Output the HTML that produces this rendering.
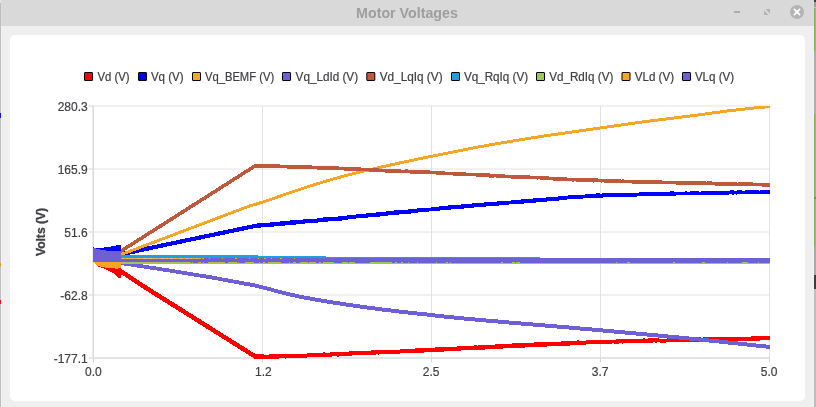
<!DOCTYPE html>
<html lang="en">
<head>
<meta charset="utf-8">
<title>Motor Voltages</title>
<style>
html,body{margin:0;padding:0;background:#efefef;overflow:hidden}
body{width:816px;height:407px;position:relative;font-family:"Liberation Sans",sans-serif}
svg{position:absolute;left:0;top:0;display:block}
text{font-family:"Liberation Sans",sans-serif}
.lb{font-size:12px;fill:#404044;stroke:#404044;stroke-width:0.2px}
.crisp{shape-rendering:crispEdges}
</style>
</head>
<body>
<svg width="816" height="407" viewBox="0 0 816 407">
<defs><clipPath id="plot"><rect x="93" y="106" width="677" height="253"/></clipPath></defs>

<g class="crisp">
<rect x="0" y="0" width="816" height="407" fill="#efefef"/>
<rect x="0" y="0" width="816" height="26" fill="#d9d9d9"/>
<rect x="1" y="0" width="1" height="26" fill="#dcdcdc"/>
<rect x="1" y="26" width="1" height="381" fill="#f3f3f3"/>
<rect x="813" y="0" width="1" height="26" fill="#dcdcdc"/>
<rect x="813" y="26" width="1" height="381" fill="#f3f3f3"/>
<rect x="0" y="0" width="1" height="407" fill="#bebebe"/>
<rect x="0" y="0" width="1" height="3" fill="#e6e6e6"/>
<rect x="0" y="113" width="1" height="5" fill="#1010e0"/>
<rect x="0" y="263" width="1" height="3" fill="#e09a14"/>
<rect x="0" y="300" width="1" height="4" fill="#e01414"/>
<rect x="814" y="0" width="2" height="2" fill="#3e3e3e"/>
<rect x="814" y="2" width="2" height="5" fill="#9e9e9e"/>
<rect x="814" y="7" width="2" height="1" fill="#c2cab4"/>
<rect x="814" y="8" width="2" height="43" fill="#8db261"/>
<rect x="814" y="8" width="1" height="43" fill="#86ab59"/>
<rect x="815" y="8" width="1" height="43" fill="#99be6b"/>
<rect x="814" y="51" width="2" height="63" fill="#adadad"/>
<rect x="814" y="114" width="2" height="58" fill="#8db261"/>
<rect x="814" y="114" width="1" height="58" fill="#86ab59"/>
<rect x="815" y="114" width="1" height="58" fill="#99be6b"/>
<rect x="814" y="172" width="2" height="25" fill="#93b774"/>
<rect x="814" y="172" width="1" height="25" fill="#86ab59"/>
<rect x="815" y="172" width="1" height="25" fill="#99be6b"/>
<rect x="814" y="197" width="2" height="2" fill="#6f9443"/>
<rect x="814" y="199" width="2" height="48" fill="#8db261"/>
<rect x="814" y="199" width="1" height="48" fill="#86ab59"/>
<rect x="815" y="199" width="1" height="48" fill="#99be6b"/>
<rect x="814" y="247" width="2" height="28" fill="#a9a9a9"/>
<rect x="814" y="275" width="2" height="14" fill="#3c3c3c"/>
<rect x="814" y="289" width="2" height="118" fill="#bdbdbd"/>
</g>
<text x="407" y="18" text-anchor="middle" font-size="14.4" font-weight="bold" fill="#9e9e9e" textLength="101.8" lengthAdjust="spacingAndGlyphs">Motor Voltages</text>
<rect class="crisp" x="734" y="11" width="6" height="2" fill="#adadad"/>
<path d="M765.5 9 H770 V13.5 Z M764 10.5 V15 H768.5 Z" fill="#b2b2b2"/>
<circle cx="797" cy="12" r="7" fill="#b4b4b4"/>
<path d="M794.4 9.4 L799.6 14.6" fill="none" stroke="#ffffff" stroke-width="1.7" stroke-linecap="round"/>
<path d="M799.6 9.4 L794.4 14.6" fill="none" stroke="#ffffff" stroke-width="1.7" stroke-linecap="round"/>
<rect x="10" y="35" width="795" height="366" rx="5" ry="5" fill="#ffffff"/>
<rect x="84.5" y="72.5" width="8" height="8" rx="0.4" fill="#ff0000" stroke="#000" stroke-width="1"/>
<text class="lb" x="97.5" y="80.6" textLength="32.1" lengthAdjust="spacingAndGlyphs">Vd (V)</text>
<rect x="138.5" y="72.5" width="8" height="8" rx="0.4" fill="#0000ff" stroke="#000" stroke-width="1"/>
<text class="lb" x="150.9" y="80.6" textLength="32.7" lengthAdjust="spacingAndGlyphs">Vq (V)</text>
<rect x="192.5" y="72.5" width="8" height="8" rx="0.4" fill="#f6a625" stroke="#000" stroke-width="1"/>
<text class="lb" x="204.9" y="80.6" textLength="69.3" lengthAdjust="spacingAndGlyphs">Vq_BEMF (V)</text>
<rect x="282.5" y="72.5" width="8" height="8" rx="0.4" fill="#6d5fd5" stroke="#000" stroke-width="1"/>
<text class="lb" x="295.6" y="80.6" textLength="62.5" lengthAdjust="spacingAndGlyphs">Vq_LdId (V)</text>
<rect x="366.8" y="72.5" width="8" height="8" rx="0.4" fill="#bf593e" stroke="#000" stroke-width="1"/>
<text class="lb" x="379.7" y="80.6" textLength="62.9" lengthAdjust="spacingAndGlyphs">Vd_LqIq (V)</text>
<rect x="451.5" y="72.5" width="8" height="8" rx="0.4" fill="#209fdf" stroke="#000" stroke-width="1"/>
<text class="lb" x="463.9" y="80.6" textLength="64.2" lengthAdjust="spacingAndGlyphs">Vq_RqIq (V)</text>
<rect x="536.5" y="72.5" width="8" height="8" rx="0.4" fill="#99ca53" stroke="#000" stroke-width="1"/>
<text class="lb" x="549.2" y="80.6" textLength="64.2" lengthAdjust="spacingAndGlyphs">Vd_RdIq (V)</text>
<rect x="622.0" y="72.5" width="8" height="8" rx="0.4" fill="#f6a625" stroke="#000" stroke-width="1"/>
<text class="lb" x="634.7" y="80.6" textLength="39.4" lengthAdjust="spacingAndGlyphs">VLd (V)</text>
<rect x="682.5" y="72.5" width="8" height="8" rx="0.4" fill="#6d5fd5" stroke="#000" stroke-width="1"/>
<text class="lb" x="694.9" y="80.6" textLength="39.3" lengthAdjust="spacingAndGlyphs">VLq (V)</text>
<line x1="93.5" y1="106" x2="93.5" y2="358" stroke="#e2e2e2" stroke-width="1"/>
<line x1="262.5" y1="106" x2="262.5" y2="358" stroke="#e2e2e2" stroke-width="1"/>
<line x1="431.5" y1="106" x2="431.5" y2="358" stroke="#e2e2e2" stroke-width="1"/>
<line x1="600.5" y1="106" x2="600.5" y2="358" stroke="#e2e2e2" stroke-width="1"/>
<line x1="769.5" y1="106" x2="769.5" y2="358" stroke="#e2e2e2" stroke-width="1"/>
<line x1="93" y1="106" x2="770" y2="106" stroke="#e2e2e2" stroke-width="1"/>
<line x1="93" y1="169" x2="770" y2="169" stroke="#e2e2e2" stroke-width="1"/>
<line x1="93" y1="232" x2="770" y2="232" stroke="#e2e2e2" stroke-width="1"/>
<line x1="93" y1="295" x2="770" y2="295" stroke="#e2e2e2" stroke-width="1"/>
<line x1="93" y1="358" x2="770" y2="358" stroke="#e2e2e2" stroke-width="1"/>
<line x1="93" y1="106" x2="93" y2="358" stroke="#d6d6d6" stroke-width="1"/>
<line x1="93" y1="358" x2="770" y2="358" stroke="#d6d6d6" stroke-width="1"/>
<line x1="93.5" y1="358" x2="93.5" y2="362.5" stroke="#d6d6d6" stroke-width="1"/>
<line x1="262.5" y1="358" x2="262.5" y2="362.5" stroke="#d6d6d6" stroke-width="1"/>
<line x1="431.5" y1="358" x2="431.5" y2="362.5" stroke="#d6d6d6" stroke-width="1"/>
<line x1="600.5" y1="358" x2="600.5" y2="362.5" stroke="#d6d6d6" stroke-width="1"/>
<line x1="769.5" y1="358" x2="769.5" y2="362.5" stroke="#d6d6d6" stroke-width="1"/>
<line x1="88.5" y1="106" x2="93" y2="106" stroke="#d6d6d6" stroke-width="1"/>
<line x1="88.5" y1="169" x2="93" y2="169" stroke="#d6d6d6" stroke-width="1"/>
<line x1="88.5" y1="232" x2="93" y2="232" stroke="#d6d6d6" stroke-width="1"/>
<line x1="88.5" y1="295" x2="93" y2="295" stroke="#d6d6d6" stroke-width="1"/>
<line x1="88.5" y1="358" x2="93" y2="358" stroke="#d6d6d6" stroke-width="1"/>
<text class="lb" x="87.7" y="110.6" text-anchor="end">280.3</text>
<text class="lb" x="87.7" y="173.6" text-anchor="end">165.9</text>
<text class="lb" x="87.7" y="236.6" text-anchor="end">51.6</text>
<text class="lb" x="87.7" y="299.6" text-anchor="end">-62.8</text>
<text class="lb" x="87.7" y="362.6" text-anchor="end">-177.1</text>
<text class="lb" x="93.4" y="376" text-anchor="middle">0.0</text>
<text class="lb" x="263.3" y="376" text-anchor="middle">1.2</text>
<text class="lb" x="431.1" y="376" text-anchor="middle">2.5</text>
<text class="lb" x="600.1" y="376" text-anchor="middle">3.7</text>
<text class="lb" x="769.1" y="376" text-anchor="middle">5.0</text>
<text class="lb" font-weight="bold" transform="translate(44.9 232) rotate(-90)" style="stroke-width:0.3px" text-anchor="middle" textLength="48" lengthAdjust="spacingAndGlyphs">Volts (V)</text>
<g class="crisp" clip-path="url(#plot)">
<polygon points="93,262 98,266.4 103,268 108,270.5 112.6,272.7 115,274.7 117.5,277 119,278.5 120.5,278 120.5,262" fill="#ff0000"/>
<polygon points="93,247 96,248.1 100,247.9 105,247.4 110,246.6 115,245.9 118.5,244.9 120.5,245.4 120.5,255 93,255" fill="#0000ff"/>
<polygon points="120.5,268.5 121.0,268.8 122.0,269.5 123.0,270.1 124.0,270.8 125.0,271.5 126.0,272.1 127.0,272.8 128.0,273.4 129.0,274.1 130.0,274.7 131.0,275.4 132.0,276.0 133.0,276.7 134.0,277.4 135.0,278.0 136.0,278.7 137.0,279.3 138.0,280.0 139.0,280.6 140.0,281.3 141.0,281.9 142.0,282.6 143.0,283.3 144.0,283.9 145.0,284.6 146.0,285.2 147.0,285.8 148.0,286.4 149.0,287.1 150.0,287.7 151.0,288.3 152.0,289.0 153.0,289.6 154.0,290.2 155.0,290.9 156.0,291.5 157.0,292.1 158.0,292.7 159.0,293.4 160.0,294.0 161.0,294.6 162.0,295.3 163.0,295.9 164.0,296.5 165.0,297.1 166.0,297.8 167.0,298.4 168.0,299.0 169.0,299.7 170.0,300.3 171.0,300.9 172.0,301.5 173.0,302.2 174.0,302.8 175.0,303.4 176.0,304.1 177.0,304.7 178.0,305.3 179.0,305.9 180.0,306.6 181.0,307.2 182.0,307.8 183.0,308.5 184.0,309.1 185.0,309.7 186.0,310.4 187.0,311.0 188.0,311.6 189.0,312.2 190.0,312.9 191.0,313.5 192.0,314.1 193.0,314.8 194.0,315.4 195.0,316.0 196.0,316.6 197.0,317.3 198.0,317.9 199.0,318.5 200.0,319.2 201.0,319.8 202.0,320.4 203.0,321.0 204.0,321.7 205.0,322.3 206.0,322.9 207.0,323.6 208.0,324.2 209.0,324.8 210.0,325.5 211.0,326.1 212.0,326.7 213.0,327.3 214.0,328.0 215.0,328.6 216.0,329.2 217.0,329.9 218.0,330.5 219.0,331.1 220.0,331.7 221.0,332.4 222.0,333.0 223.0,333.6 224.0,334.3 225.0,334.9 226.0,335.5 227.0,336.1 228.0,336.8 229.0,337.4 230.0,338.0 231.0,338.7 232.0,339.3 233.0,339.9 234.0,340.6 235.0,341.2 236.0,341.8 237.0,342.4 238.0,343.1 239.0,343.7 240.0,344.3 241.0,345.0 242.0,345.6 243.0,346.2 244.0,346.8 245.0,347.5 246.0,348.1 247.0,348.7 248.0,349.4 249.0,350.0 250.0,350.6 251.0,351.2 252.0,351.9 253.0,352.5 254.0,353.1 255.0,353.8 256.0,354.2 257.0,354.5 258.0,354.3 259.0,354.2 260.0,354.1 261.0,354.4 262.0,354.4 263.0,354.3 264.0,354.5 265.0,354.6 266.0,354.5 267.0,354.6 268.0,354.6 269.0,354.5 270.0,354.4 271.0,354.2 272.0,354.4 273.0,354.4 274.0,354.6 275.0,354.4 276.0,354.3 277.0,354.4 278.0,354.3 279.0,354.3 280.0,354.2 281.0,354.1 282.0,354.1 283.0,354.0 284.0,354.0 285.0,354.0 286.0,353.9 287.0,354.0 288.0,354.2 289.0,354.2 290.0,354.2 291.0,354.0 292.0,354.1 293.0,354.2 294.0,354.2 295.0,354.0 296.0,354.0 297.0,354.1 298.0,354.0 299.0,353.9 300.0,353.9 301.0,353.7 302.0,353.8 303.0,353.7 304.0,353.8 305.0,353.6 306.0,353.5 307.0,353.5 308.0,353.4 309.0,353.3 310.0,353.1 311.0,353.2 312.0,353.1 313.0,353.0 314.0,353.0 315.0,353.0 316.0,353.0 317.0,352.9 318.0,352.9 319.0,352.8 320.0,352.9 321.0,352.7 322.0,352.5 323.0,352.5 324.0,352.4 325.0,352.5 326.0,352.6 327.0,352.5 328.0,352.5 329.0,352.5 330.0,352.6 331.0,352.4 332.0,352.2 333.0,352.3 334.0,352.2 335.0,352.1 336.0,351.9 337.0,351.8 338.0,351.9 339.0,351.8 340.0,351.9 341.0,352.0 342.0,351.9 343.0,351.8 344.0,351.9 345.0,351.9 346.0,351.7 347.0,351.5 348.0,351.6 349.0,351.6 350.0,351.4 351.0,351.2 352.0,351.1 353.0,351.1 354.0,351.1 355.0,351.2 356.0,351.1 357.0,351.0 358.0,350.9 359.0,351.0 360.0,351.1 361.0,351.0 362.0,351.1 363.0,350.9 364.0,350.7 365.0,350.6 366.0,350.6 367.0,350.7 368.0,350.5 369.0,350.5 370.0,350.5 371.0,350.5 372.0,350.4 373.0,350.3 374.0,350.4 375.0,350.3 376.0,350.3 377.0,350.1 378.0,350.1 379.0,350.2 380.0,350.3 381.0,350.3 382.0,350.3 383.0,350.1 384.0,350.1 385.0,350.0 386.0,349.9 387.0,349.8 388.0,349.8 389.0,349.9 390.0,349.8 391.0,349.8 392.0,349.7 393.0,349.7 394.0,349.8 395.0,349.8 396.0,349.8 397.0,349.6 398.0,349.6 399.0,349.5 400.0,349.5 401.0,349.4 402.0,349.3 403.0,349.2 404.0,349.2 405.0,349.1 406.0,349.1 407.0,349.1 408.0,348.9 409.0,349.0 410.0,348.8 411.0,348.8 412.0,348.7 413.0,348.6 414.0,348.6 415.0,348.5 416.0,348.4 417.0,348.3 418.0,348.4 419.0,348.3 420.0,348.3 421.0,348.1 422.0,348.2 423.0,348.1 424.0,348.2 425.0,348.2 426.0,348.3 427.0,348.3 428.0,348.3 429.0,348.2 430.0,347.9 431.0,347.8 432.0,347.7 433.0,347.7 434.0,347.6 435.0,347.5 436.0,347.4 437.0,347.5 438.0,347.3 439.0,347.4 440.0,347.5 441.0,347.4 442.0,347.2 443.0,347.0 444.0,347.0 445.0,346.9 446.0,347.0 447.0,347.0 448.0,347.1 449.0,347.0 450.0,347.1 451.0,347.1 452.0,346.9 453.0,346.9 454.0,346.8 455.0,346.8 456.0,346.8 457.0,346.6 458.0,346.4 459.0,346.2 460.0,346.3 461.0,346.1 462.0,346.3 463.0,346.1 464.0,346.0 465.0,346.0 466.0,346.0 467.0,346.0 468.0,346.0 469.0,346.0 470.0,345.8 471.0,345.8 472.0,345.8 473.0,345.7 474.0,345.6 475.0,345.4 476.0,345.4 477.0,345.5 478.0,345.5 479.0,345.3 480.0,345.2 481.0,345.3 482.0,345.1 483.0,345.1 484.0,345.0 485.0,344.8 486.0,344.8 487.0,344.8 488.0,344.9 489.0,344.8 490.0,344.9 491.0,344.6 492.0,344.7 493.0,344.5 494.0,344.6 495.0,344.5 496.0,344.3 497.0,344.3 498.0,344.3 499.0,344.3 500.0,344.3 501.0,344.4 502.0,344.4 503.0,344.3 504.0,344.3 505.0,344.1 506.0,344.0 507.0,343.9 508.0,343.7 509.0,343.7 510.0,343.6 511.0,343.5 512.0,343.5 513.0,343.4 514.0,343.3 515.0,343.2 516.0,343.2 517.0,343.4 518.0,343.4 519.0,343.5 520.0,343.3 521.0,343.3 522.0,343.3 523.0,343.3 524.0,343.4 525.0,343.2 526.0,343.3 527.0,343.0 528.0,343.0 529.0,343.1 530.0,342.9 531.0,342.7 532.0,342.7 533.0,342.5 534.0,342.5 535.0,342.4 536.0,342.5 537.0,342.3 538.0,342.2 539.0,342.3 540.0,342.2 541.0,342.2 542.0,342.3 543.0,342.3 544.0,342.4 545.0,342.4 546.0,342.4 547.0,342.2 548.0,342.2 549.0,342.1 550.0,342.2 551.0,342.1 552.0,342.1 553.0,341.9 554.0,341.9 555.0,341.7 556.0,341.8 557.0,341.9 558.0,341.8 559.0,341.7 560.0,341.7 561.0,341.6 562.0,341.4 563.0,341.4 564.0,341.3 565.0,341.2 566.0,341.3 567.0,341.3 568.0,341.2 569.0,341.2 570.0,341.3 571.0,341.3 572.0,341.2 573.0,341.0 574.0,340.9 575.0,340.8 576.0,340.7 577.0,340.5 578.0,340.4 579.0,340.5 580.0,340.6 581.0,340.6 582.0,340.6 583.0,340.6 584.0,340.6 585.0,340.7 586.0,340.4 587.0,340.5 588.0,340.2 589.0,340.2 590.0,340.1 591.0,340.2 592.0,340.2 593.0,340.1 594.0,340.0 595.0,340.1 596.0,340.1 597.0,340.1 598.0,339.9 599.0,339.8 600.0,339.9 601.0,339.9 602.0,339.8 603.0,339.7 604.0,339.8 605.0,339.9 606.0,339.7 607.0,339.6 608.0,339.5 609.0,339.7 610.0,339.6 611.0,339.6 612.0,339.6 613.0,339.5 614.0,339.7 615.0,339.7 616.0,339.5 617.0,339.4 618.0,339.5 619.0,339.3 620.0,339.3 621.0,339.1 622.0,339.2 623.0,339.2 624.0,339.0 625.0,339.0 626.0,338.9 627.0,338.9 628.0,338.9 629.0,338.8 630.0,338.9 631.0,338.7 632.0,338.9 633.0,339.0 634.0,338.9 635.0,338.8 636.0,338.7 637.0,338.6 638.0,338.7 639.0,338.8 640.0,338.7 641.0,338.8 642.0,338.6 643.0,338.6 644.0,338.4 645.0,338.6 646.0,338.5 647.0,338.6 648.0,338.5 649.0,338.4 650.0,338.5 651.0,338.4 652.0,338.3 653.0,338.2 654.0,338.1 655.0,338.2 656.0,338.3 657.0,338.4 658.0,338.4 659.0,338.6 660.0,338.6 661.0,338.7 662.0,338.7 663.0,338.7 664.0,338.6 665.0,338.5 666.0,338.6 667.0,338.5 668.0,338.4 669.0,338.3 670.0,338.3 671.0,338.2 672.0,338.1 673.0,338.0 674.0,338.1 675.0,338.1 676.0,338.2 677.0,338.0 678.0,338.0 679.0,338.2 680.0,338.3 681.0,338.3 682.0,338.1 683.0,338.0 684.0,337.9 685.0,337.8 686.0,337.7 687.0,337.8 688.0,337.7 689.0,337.8 690.0,337.8 691.0,337.9 692.0,337.9 693.0,337.9 694.0,337.8 695.0,337.6 696.0,337.4 697.0,337.3 698.0,337.2 699.0,337.3 700.0,337.3 701.0,337.5 702.0,337.6 703.0,337.5 704.0,337.4 705.0,337.3 706.0,337.4 707.0,337.4 708.0,337.3 709.0,337.5 710.0,337.3 711.0,337.2 712.0,337.4 713.0,337.4 714.0,337.4 715.0,337.4 716.0,337.2 717.0,337.2 718.0,337.3 719.0,337.1 720.0,337.0 721.0,336.9 722.0,336.8 723.0,337.0 724.0,337.1 725.0,337.1 726.0,337.1 727.0,337.0 728.0,337.0 729.0,337.1 730.0,336.9 731.0,336.8 732.0,336.6 733.0,336.8 734.0,336.9 735.0,336.7 736.0,336.8 737.0,336.6 738.0,336.7 739.0,336.8 740.0,336.8 741.0,336.8 742.0,336.9 743.0,336.8 744.0,336.8 745.0,336.9 746.0,336.8 747.0,336.7 748.0,336.8 749.0,336.8 750.0,336.8 751.0,336.6 752.0,336.4 753.0,336.3 754.0,336.4 755.0,336.5 756.0,336.3 757.0,336.2 758.0,336.2 759.0,336.4 760.0,336.3 761.0,336.2 762.0,336.2 763.0,336.1 764.0,336.0 765.0,336.0 766.0,336.0 767.0,336.1 768.0,336.2 769.0,336.0 770.0,336.0 770.0,340.0 769.0,340.1 768.0,340.2 767.0,340.3 766.0,340.3 765.0,340.2 764.0,340.3 763.0,340.2 762.0,340.3 761.0,340.4 760.0,340.5 759.0,340.5 758.0,340.5 757.0,340.5 756.0,340.6 755.0,340.5 754.0,340.6 753.0,340.7 752.0,340.8 751.0,340.8 750.0,340.8 749.0,340.8 748.0,340.8 747.0,340.8 746.0,340.7 745.0,340.7 744.0,340.9 743.0,340.8 742.0,340.9 741.0,340.9 740.0,340.8 739.0,341.0 738.0,341.1 737.0,341.0 736.0,341.1 735.0,341.0 734.0,340.8 733.0,340.9 732.0,340.8 731.0,341.0 730.0,341.2 729.0,341.3 728.0,341.2 727.0,341.2 726.0,341.3 725.0,341.3 724.0,341.3 723.0,341.4 722.0,341.4 721.0,341.6 720.0,341.6 719.0,341.6 718.0,341.5 717.0,341.4 716.0,341.5 715.0,341.5 714.0,341.3 713.0,341.5 712.0,341.5 711.0,341.6 710.0,341.7 709.0,341.8 708.0,341.8 707.0,341.9 706.0,341.8 705.0,341.7 704.0,341.9 703.0,341.9 702.0,341.9 701.0,341.8 700.0,341.8 699.0,341.6 698.0,341.7 697.0,341.8 696.0,342.0 695.0,342.0 694.0,342.1 693.0,342.2 692.0,342.1 691.0,342.1 690.0,342.2 689.0,342.3 688.0,342.3 687.0,342.2 686.0,342.2 685.0,342.2 684.0,342.2 683.0,342.3 682.0,342.2 681.0,342.1 680.0,341.9 679.0,342.0 678.0,342.1 677.0,342.3 676.0,342.4 675.0,342.3 674.0,342.2 673.0,342.2 672.0,342.2 671.0,342.2 670.0,342.2 669.0,342.2 668.0,342.2 667.0,342.3 666.0,342.5 665.0,342.5 664.0,342.5 663.0,342.5 662.0,342.5 661.0,342.5 660.0,342.5 659.0,342.4 658.0,342.4 657.0,342.5 656.0,342.5 655.0,342.6 654.0,342.4 653.0,342.5 652.0,342.6 651.0,342.7 650.0,342.6 649.0,342.8 648.0,342.6 647.0,342.7 646.0,342.9 645.0,342.9 644.0,342.7 643.0,342.8 642.0,342.7 641.0,342.9 640.0,343.0 639.0,342.9 638.0,343.0 637.0,343.0 636.0,343.0 635.0,343.1 634.0,343.3 633.0,343.4 632.0,343.3 631.0,343.2 630.0,343.4 629.0,343.4 628.0,343.3 627.0,343.3 626.0,343.3 625.0,343.5 624.0,343.4 623.0,343.5 622.0,343.6 621.0,343.4 620.0,343.4 619.0,343.6 618.0,343.5 617.0,343.7 616.0,343.6 615.0,343.7 614.0,343.5 613.0,343.4 612.0,343.6 611.0,343.7 610.0,343.9 609.0,343.8 608.0,343.9 607.0,343.8 606.0,343.8 605.0,343.6 604.0,343.8 603.0,343.9 602.0,344.0 601.0,343.9 600.0,344.1 599.0,344.0 598.0,343.9 597.0,344.0 596.0,344.1 595.0,344.2 594.0,344.4 593.0,344.4 592.0,344.4 591.0,344.3 590.0,344.5 589.0,344.4 588.0,344.3 587.0,344.3 586.0,344.5 585.0,344.6 584.0,344.6 583.0,344.6 582.0,344.7 581.0,344.7 580.0,344.7 579.0,344.8 578.0,344.9 577.0,344.8 576.0,345.0 575.0,345.0 574.0,345.2 573.0,345.4 572.0,345.4 571.0,345.4 570.0,345.6 569.0,345.6 568.0,345.6 567.0,345.6 566.0,345.7 565.0,345.7 564.0,345.8 563.0,345.7 562.0,345.7 561.0,345.8 560.0,345.9 559.0,345.8 558.0,345.8 557.0,345.8 556.0,345.8 555.0,345.7 554.0,345.7 553.0,345.9 552.0,346.0 551.0,346.1 550.0,346.3 549.0,346.3 548.0,346.4 547.0,346.5 546.0,346.5 545.0,346.7 544.0,346.7 543.0,346.6 542.0,346.7 541.0,346.8 540.0,346.8 539.0,346.7 538.0,346.7 537.0,346.8 536.0,346.7 535.0,346.6 534.0,346.7 533.0,346.7 532.0,346.8 531.0,346.9 530.0,347.1 529.0,347.0 528.0,347.2 527.0,347.2 526.0,347.4 525.0,347.5 524.0,347.6 523.0,347.7 522.0,347.8 521.0,347.9 520.0,347.9 519.0,348.0 518.0,348.1 517.0,348.1 516.0,348.1 515.0,348.0 514.0,347.9 513.0,348.1 512.0,348.0 511.0,348.0 510.0,348.0 509.0,348.1 508.0,348.2 507.0,348.1 506.0,348.1 505.0,348.3 504.0,348.4 503.0,348.6 502.0,348.5 501.0,348.5 500.0,348.5 499.0,348.6 498.0,348.8 497.0,348.7 496.0,348.8 495.0,348.8 494.0,348.9 493.0,348.8 492.0,348.7 491.0,348.8 490.0,348.8 489.0,348.9 488.0,349.1 487.0,349.3 486.0,349.3 485.0,349.5 484.0,349.7 483.0,349.6 482.0,349.7 481.0,350.0 480.0,350.0 479.0,350.0 478.0,349.9 477.0,349.9 476.0,349.9 475.0,349.9 474.0,349.8 473.0,349.9 472.0,350.1 471.0,350.2 470.0,350.3 469.0,350.2 468.0,350.4 467.0,350.2 466.0,350.3 465.0,350.2 464.0,350.1 463.0,350.2 462.0,350.4 461.0,350.5 460.0,350.8 459.0,350.7 458.0,350.7 457.0,350.8 456.0,350.8 455.0,351.0 454.0,351.2 453.0,351.2 452.0,351.1 451.0,351.2 450.0,351.1 449.0,351.3 448.0,351.1 447.0,351.2 446.0,351.3 445.0,351.4 444.0,351.5 443.0,351.6 442.0,351.8 441.0,351.8 440.0,351.7 439.0,351.7 438.0,351.6 437.0,351.8 436.0,351.6 435.0,351.8 434.0,352.0 433.0,352.1 432.0,352.2 431.0,352.2 430.0,352.1 429.0,352.1 428.0,352.2 427.0,352.4 426.0,352.3 425.0,352.4 424.0,352.6 423.0,352.8 422.0,352.8 421.0,353.0 420.0,353.0 419.0,352.9 418.0,352.9 417.0,353.0 416.0,353.0 415.0,353.1 414.0,353.1 413.0,353.1 412.0,353.1 411.0,353.0 410.0,353.1 409.0,353.0 408.0,353.1 407.0,353.3 406.0,353.3 405.0,353.3 404.0,353.2 403.0,353.4 402.0,353.4 401.0,353.4 400.0,353.6 399.0,353.6 398.0,353.8 397.0,353.8 396.0,354.0 395.0,354.0 394.0,354.0 393.0,354.0 392.0,354.0 391.0,354.2 390.0,354.2 389.0,354.2 388.0,354.2 387.0,354.1 386.0,354.0 385.0,354.0 384.0,354.3 383.0,354.3 382.0,354.5 381.0,354.4 380.0,354.4 379.0,354.5 378.0,354.5 377.0,354.4 376.0,354.5 375.0,354.7 374.0,354.7 373.0,354.6 372.0,354.7 371.0,354.7 370.0,354.9 369.0,355.0 368.0,355.2 367.0,355.4 366.0,355.3 365.0,355.3 364.0,355.3 363.0,355.2 362.0,355.4 361.0,355.4 360.0,355.4 359.0,355.4 358.0,355.4 357.0,355.3 356.0,355.3 355.0,355.3 354.0,355.4 353.0,355.3 352.0,355.5 351.0,355.7 350.0,355.6 349.0,355.7 348.0,355.8 347.0,356.0 346.0,355.9 345.0,356.1 344.0,356.2 343.0,356.3 342.0,356.3 341.0,356.3 340.0,356.3 339.0,356.5 338.0,356.5 337.0,356.5 336.0,356.4 335.0,356.4 334.0,356.4 333.0,356.4 332.0,356.6 331.0,356.7 330.0,356.8 329.0,356.9 328.0,356.9 327.0,357.0 326.0,357.0 325.0,356.9 324.0,357.1 323.0,357.0 322.0,356.9 321.0,357.2 320.0,357.2 319.0,357.1 318.0,357.1 317.0,357.2 316.0,357.2 315.0,357.1 314.0,357.1 313.0,357.1 312.0,357.3 311.0,357.2 310.0,357.2 309.0,357.2 308.0,357.3 307.0,357.5 306.0,357.5 305.0,357.7 304.0,357.8 303.0,357.8 302.0,357.9 301.0,357.7 300.0,357.9 299.0,357.9 298.0,358.0 297.0,358.2 296.0,358.2 295.0,358.0 294.0,357.9 293.0,358.0 292.0,358.1 291.0,358.2 290.0,358.3 289.0,358.4 288.0,358.2 287.0,358.3 286.0,358.5 285.0,358.5 284.0,358.4 283.0,358.3 282.0,358.2 281.0,358.3 280.0,358.4 279.0,358.6 278.0,358.6 277.0,358.6 276.0,358.6 275.0,358.5 274.0,358.6 273.0,358.6 272.0,358.5 271.0,358.5 270.0,358.6 269.0,358.7 268.0,358.7 267.0,358.7 266.0,358.6 265.0,358.6 264.0,358.7 263.0,358.5 262.0,358.6 261.0,358.6 260.0,358.7 259.0,358.9 258.0,358.8 257.0,358.8 256.0,359.0 255.0,359.1 254.0,358.4 253.0,357.8 252.0,357.2 251.0,356.5 250.0,355.9 249.0,355.3 248.0,354.7 247.0,354.0 246.0,353.4 245.0,352.8 244.0,352.1 243.0,351.5 242.0,350.9 241.0,350.3 240.0,349.6 239.0,349.0 238.0,348.4 237.0,347.8 236.0,347.1 235.0,346.5 234.0,345.9 233.0,345.2 232.0,344.6 231.0,344.0 230.0,343.4 229.0,342.7 228.0,342.1 227.0,341.5 226.0,340.8 225.0,340.2 224.0,339.6 223.0,339.0 222.0,338.3 221.0,337.7 220.0,337.1 219.0,336.4 218.0,335.8 217.0,335.2 216.0,334.6 215.0,333.9 214.0,333.3 213.0,332.7 212.0,332.0 211.0,331.4 210.0,330.8 209.0,330.2 208.0,329.5 207.0,328.9 206.0,328.3 205.0,327.6 204.0,327.0 203.0,326.4 202.0,325.8 201.0,325.1 200.0,324.5 199.0,323.9 198.0,323.2 197.0,322.6 196.0,322.0 195.0,321.4 194.0,320.7 193.0,320.1 192.0,319.5 191.0,318.8 190.0,318.2 189.0,317.6 188.0,317.0 187.0,316.3 186.0,315.7 185.0,315.1 184.0,314.4 183.0,313.8 182.0,313.2 181.0,312.6 180.0,311.9 179.0,311.3 178.0,310.7 177.0,310.0 176.0,309.4 175.0,308.8 174.0,308.2 173.0,307.5 172.0,306.9 171.0,306.3 170.0,305.7 169.0,305.0 168.0,304.4 167.0,303.8 166.0,303.1 165.0,302.5 164.0,301.9 163.0,301.3 162.0,300.6 161.0,300.0 160.0,299.4 159.0,298.7 158.0,298.1 157.0,297.5 156.0,296.9 155.0,296.2 154.0,295.6 153.0,295.0 152.0,294.3 151.0,293.7 150.0,293.1 149.0,292.5 148.0,291.8 147.0,291.2 146.0,290.6 145.0,289.9 144.0,289.3 143.0,288.6 142.0,288.0 141.0,287.3 140.0,286.7 139.0,286.0 138.0,285.4 137.0,284.7 136.0,284.1 135.0,283.4 134.0,282.7 133.0,282.1 132.0,281.4 131.0,280.8 130.0,280.1 129.0,279.5 128.0,278.8 127.0,278.2 126.0,277.5 125.0,276.8 124.0,276.2 123.0,275.5 122.0,274.9 121.0,274.2 120.5,273.9" fill="#ff0000"/>
<polygon points="120.5,252.2 121.0,252.1 122.0,251.9 123.0,251.7 124.0,251.5 125.0,251.3 126.0,251.1 127.0,250.9 128.0,250.7 129.0,250.4 130.0,250.2 131.0,250.0 132.0,249.8 133.0,249.6 134.0,249.4 135.0,249.2 136.0,248.9 137.0,248.7 138.0,248.5 139.0,248.3 140.0,248.1 141.0,247.9 142.0,247.7 143.0,247.5 144.0,247.2 145.0,247.0 146.0,246.8 147.0,246.6 148.0,246.4 149.0,246.2 150.0,246.0 151.0,245.7 152.0,245.5 153.0,245.3 154.0,245.1 155.0,244.9 156.0,244.7 157.0,244.5 158.0,244.3 159.0,244.0 160.0,243.8 161.0,243.6 162.0,243.4 163.0,243.2 164.0,243.0 165.0,242.8 166.0,242.5 167.0,242.3 168.0,242.1 169.0,241.9 170.0,241.7 171.0,241.5 172.0,241.3 173.0,241.1 174.0,240.9 175.0,240.7 176.0,240.4 177.0,240.2 178.0,240.0 179.0,239.8 180.0,239.6 181.0,239.4 182.0,239.2 183.0,239.0 184.0,238.8 185.0,238.6 186.0,238.3 187.0,238.1 188.0,237.9 189.0,237.7 190.0,237.5 191.0,237.3 192.0,237.1 193.0,236.9 194.0,236.7 195.0,236.5 196.0,236.2 197.0,236.0 198.0,235.8 199.0,235.6 200.0,235.4 201.0,235.2 202.0,235.0 203.0,234.8 204.0,234.6 205.0,234.3 206.0,234.1 207.0,233.9 208.0,233.7 209.0,233.5 210.0,233.3 211.0,233.1 212.0,232.9 213.0,232.7 214.0,232.5 215.0,232.2 216.0,232.0 217.0,231.8 218.0,231.6 219.0,231.4 220.0,231.2 221.0,231.0 222.0,230.8 223.0,230.6 224.0,230.4 225.0,230.1 226.0,229.9 227.0,229.7 228.0,229.5 229.0,229.3 230.0,229.1 231.0,228.9 232.0,228.7 233.0,228.5 234.0,228.3 235.0,228.0 236.0,227.8 237.0,227.6 238.0,227.4 239.0,227.2 240.0,227.0 241.0,226.8 242.0,226.6 243.0,226.4 244.0,226.1 245.0,225.9 246.0,225.7 247.0,225.5 248.0,225.3 249.0,225.1 250.0,224.9 251.0,224.7 252.0,224.5 253.0,224.3 254.0,224.1 255.0,223.8 256.0,223.7 257.0,223.6 258.0,223.4 259.0,223.5 260.0,223.3 261.0,223.3 262.0,223.3 263.0,223.2 264.0,223.3 265.0,223.1 266.0,222.9 267.0,222.8 268.0,222.6 269.0,222.5 270.0,222.5 271.0,222.4 272.0,222.5 273.0,222.4 274.0,222.3 275.0,222.1 276.0,221.9 277.0,222.0 278.0,221.7 279.0,221.7 280.0,221.6 281.0,221.3 282.0,221.3 283.0,221.4 284.0,221.1 285.0,221.1 286.0,221.1 287.0,220.9 288.0,220.7 289.0,220.6 290.0,220.6 291.0,220.4 292.0,220.2 293.0,220.2 294.0,220.2 295.0,220.1 296.0,220.0 297.0,219.9 298.0,219.7 299.0,219.6 300.0,219.6 301.0,219.6 302.0,219.7 303.0,219.5 304.0,219.4 305.0,219.1 306.0,219.2 307.0,219.2 308.0,219.1 309.0,218.9 310.0,218.8 311.0,218.9 312.0,218.9 313.0,218.8 314.0,218.7 315.0,218.7 316.0,218.6 317.0,218.5 318.0,218.4 319.0,218.2 320.0,218.1 321.0,217.9 322.0,217.7 323.0,217.6 324.0,217.4 325.0,217.4 326.0,217.3 327.0,217.4 328.0,217.3 329.0,217.3 330.0,217.0 331.0,216.8 332.0,216.7 333.0,216.8 334.0,216.8 335.0,216.6 336.0,216.5 337.0,216.5 338.0,216.5 339.0,216.4 340.0,216.4 341.0,216.3 342.0,216.1 343.0,216.0 344.0,215.8 345.0,215.8 346.0,215.7 347.0,215.4 348.0,215.2 349.0,215.1 350.0,215.1 351.0,215.1 352.0,215.0 353.0,215.0 354.0,214.8 355.0,214.5 356.0,214.6 357.0,214.3 358.0,214.2 359.0,214.0 360.0,213.9 361.0,213.8 362.0,213.7 363.0,213.5 364.0,213.6 365.0,213.6 366.0,213.5 367.0,213.3 368.0,213.3 369.0,213.4 370.0,213.2 371.0,213.0 372.0,212.9 373.0,212.8 374.0,212.9 375.0,212.7 376.0,212.6 377.0,212.3 378.0,212.1 379.0,212.1 380.0,211.9 381.0,211.9 382.0,211.7 383.0,211.5 384.0,211.6 385.0,211.7 386.0,211.4 387.0,211.2 388.0,211.2 389.0,211.1 390.0,210.9 391.0,211.0 392.0,211.0 393.0,210.7 394.0,210.5 395.0,210.3 396.0,210.1 397.0,210.1 398.0,210.2 399.0,210.2 400.0,210.3 401.0,210.0 402.0,209.9 403.0,209.8 404.0,209.7 405.0,209.6 406.0,209.6 407.0,209.5 408.0,209.5 409.0,209.2 410.0,209.2 411.0,208.9 412.0,208.8 413.0,208.8 414.0,208.7 415.0,208.7 416.0,208.5 417.0,208.5 418.0,208.4 419.0,208.2 420.0,208.2 421.0,208.0 422.0,208.1 423.0,208.0 424.0,207.8 425.0,207.8 426.0,207.8 427.0,207.6 428.0,207.6 429.0,207.5 430.0,207.5 431.0,207.5 432.0,207.2 433.0,207.1 434.0,207.1 435.0,207.1 436.0,207.0 437.0,206.8 438.0,206.7 439.0,206.5 440.0,206.3 441.0,206.2 442.0,206.0 443.0,206.1 444.0,206.0 445.0,206.1 446.0,205.9 447.0,205.9 448.0,205.6 449.0,205.4 450.0,205.3 451.0,205.3 452.0,205.2 453.0,205.3 454.0,205.2 455.0,205.0 456.0,204.8 457.0,204.8 458.0,204.8 459.0,204.8 460.0,204.5 461.0,204.6 462.0,204.4 463.0,204.4 464.0,204.4 465.0,204.2 466.0,203.9 467.0,203.7 468.0,203.7 469.0,203.8 470.0,203.7 471.0,203.5 472.0,203.5 473.0,203.2 474.0,203.3 475.0,203.3 476.0,203.2 477.0,203.1 478.0,203.1 479.0,203.1 480.0,202.8 481.0,202.7 482.0,202.5 483.0,202.5 484.0,202.5 485.0,202.3 486.0,202.1 487.0,202.0 488.0,201.9 489.0,201.9 490.0,201.8 491.0,201.9 492.0,201.7 493.0,201.6 494.0,201.6 495.0,201.6 496.0,201.7 497.0,201.5 498.0,201.2 499.0,201.3 500.0,201.3 501.0,201.2 502.0,201.1 503.0,201.1 504.0,200.8 505.0,200.9 506.0,200.8 507.0,200.8 508.0,200.6 509.0,200.6 510.0,200.6 511.0,200.5 512.0,200.3 513.0,200.0 514.0,199.9 515.0,199.9 516.0,199.8 517.0,199.7 518.0,199.5 519.0,199.5 520.0,199.6 521.0,199.5 522.0,199.4 523.0,199.4 524.0,199.1 525.0,198.9 526.0,198.7 527.0,198.9 528.0,198.8 529.0,198.7 530.0,198.6 531.0,198.5 532.0,198.6 533.0,198.5 534.0,198.3 535.0,198.4 536.0,198.3 537.0,198.1 538.0,198.0 539.0,197.9 540.0,197.8 541.0,197.7 542.0,197.7 543.0,197.6 544.0,197.6 545.0,197.7 546.0,197.5 547.0,197.4 548.0,197.4 549.0,197.3 550.0,197.2 551.0,197.2 552.0,196.9 553.0,196.8 554.0,196.7 555.0,196.7 556.0,196.7 557.0,196.6 558.0,196.5 559.0,196.4 560.0,196.3 561.0,196.1 562.0,196.2 563.0,196.1 564.0,195.8 565.0,195.7 566.0,195.7 567.0,195.7 568.0,195.5 569.0,195.2 570.0,195.3 571.0,195.2 572.0,195.3 573.0,195.3 574.0,195.2 575.0,195.1 576.0,195.0 577.0,194.9 578.0,194.8 579.0,194.7 580.0,194.6 581.0,194.7 582.0,194.5 583.0,194.5 584.0,194.5 585.0,194.5 586.0,194.4 587.0,194.3 588.0,194.1 589.0,194.0 590.0,194.1 591.0,194.1 592.0,193.9 593.0,193.9 594.0,193.7 595.0,193.6 596.0,193.5 597.0,193.4 598.0,193.3 599.0,193.4 600.0,193.5 601.0,193.6 602.0,193.5 603.0,193.3 604.0,193.3 605.0,193.4 606.0,193.5 607.0,193.2 608.0,193.1 609.0,193.0 610.0,193.0 611.0,192.8 612.0,193.0 613.0,192.9 614.0,193.0 615.0,193.0 616.0,192.9 617.0,192.7 618.0,192.6 619.0,192.7 620.0,192.9 621.0,192.9 622.0,193.0 623.0,192.8 624.0,192.6 625.0,192.7 626.0,192.8 627.0,192.6 628.0,192.8 629.0,192.7 630.0,192.5 631.0,192.7 632.0,192.8 633.0,192.6 634.0,192.5 635.0,192.5 636.0,192.5 637.0,192.6 638.0,192.6 639.0,192.5 640.0,192.3 641.0,192.3 642.0,192.4 643.0,192.5 644.0,192.4 645.0,192.5 646.0,192.2 647.0,192.2 648.0,192.2 649.0,192.1 650.0,192.3 651.0,192.3 652.0,192.1 653.0,192.1 654.0,192.1 655.0,192.1 656.0,192.0 657.0,191.9 658.0,191.8 659.0,191.8 660.0,191.8 661.0,191.7 662.0,191.6 663.0,191.8 664.0,191.7 665.0,191.6 666.0,191.6 667.0,191.6 668.0,191.7 669.0,191.5 670.0,191.5 671.0,191.4 672.0,191.4 673.0,191.3 674.0,191.5 675.0,191.5 676.0,191.6 677.0,191.7 678.0,191.8 679.0,191.7 680.0,191.7 681.0,191.5 682.0,191.6 683.0,191.5 684.0,191.6 685.0,191.5 686.0,191.4 687.0,191.5 688.0,191.6 689.0,191.7 690.0,191.6 691.0,191.4 692.0,191.4 693.0,191.4 694.0,191.4 695.0,191.4 696.0,191.4 697.0,191.3 698.0,191.4 699.0,191.5 700.0,191.5 701.0,191.5 702.0,191.3 703.0,191.1 704.0,191.1 705.0,191.2 706.0,191.3 707.0,191.1 708.0,191.2 709.0,191.1 710.0,190.9 711.0,191.1 712.0,191.1 713.0,190.9 714.0,190.8 715.0,190.8 716.0,190.6 717.0,190.6 718.0,190.5 719.0,190.6 720.0,190.8 721.0,190.6 722.0,190.8 723.0,190.8 724.0,190.9 725.0,190.9 726.0,190.7 727.0,190.6 728.0,190.7 729.0,190.8 730.0,190.6 731.0,190.4 732.0,190.6 733.0,190.4 734.0,190.5 735.0,190.5 736.0,190.6 737.0,190.6 738.0,190.4 739.0,190.3 740.0,190.2 741.0,190.3 742.0,190.5 743.0,190.6 744.0,190.6 745.0,190.6 746.0,190.4 747.0,190.5 748.0,190.3 749.0,190.2 750.0,190.1 751.0,190.3 752.0,190.3 753.0,190.4 754.0,190.5 755.0,190.3 756.0,190.3 757.0,190.3 758.0,190.4 759.0,190.5 760.0,190.5 761.0,190.4 762.0,190.2 763.0,190.0 764.0,190.1 765.0,189.9 766.0,189.9 767.0,189.9 768.0,189.9 769.0,189.8 770.0,189.8 770.0,193.7 769.0,193.7 768.0,193.7 767.0,193.7 766.0,193.8 765.0,193.7 764.0,193.9 763.0,193.9 762.0,193.9 761.0,193.8 760.0,193.8 759.0,193.9 758.0,193.9 757.0,193.9 756.0,193.9 755.0,193.8 754.0,193.9 753.0,194.1 752.0,193.9 751.0,193.9 750.0,193.8 749.0,193.9 748.0,194.0 747.0,194.0 746.0,194.1 745.0,194.2 744.0,194.0 743.0,194.1 742.0,194.0 741.0,194.2 740.0,194.3 739.0,194.3 738.0,194.4 737.0,194.5 736.0,194.5 735.0,194.4 734.0,194.6 733.0,194.6 732.0,194.6 731.0,194.4 730.0,194.4 729.0,194.5 728.0,194.7 727.0,194.6 726.0,194.5 725.0,194.8 724.0,194.8 723.0,194.7 722.0,194.8 721.0,194.8 720.0,194.9 719.0,194.9 718.0,194.9 717.0,194.8 716.0,194.8 715.0,194.7 714.0,194.7 713.0,194.8 712.0,194.8 711.0,194.7 710.0,194.7 709.0,194.7 708.0,194.7 707.0,194.6 706.0,194.7 705.0,194.7 704.0,194.9 703.0,194.9 702.0,195.0 701.0,195.2 700.0,195.2 699.0,195.3 698.0,195.1 697.0,195.1 696.0,195.1 695.0,195.0 694.0,195.1 693.0,195.2 692.0,195.1 691.0,195.3 690.0,195.5 689.0,195.4 688.0,195.3 687.0,195.3 686.0,195.2 685.0,195.3 684.0,195.3 683.0,195.2 682.0,195.4 681.0,195.2 680.0,195.4 679.0,195.4 678.0,195.4 677.0,195.4 676.0,195.6 675.0,195.5 674.0,195.5 673.0,195.5 672.0,195.5 671.0,195.5 670.0,195.6 669.0,195.7 668.0,195.6 667.0,195.7 666.0,195.6 665.0,195.8 664.0,195.9 663.0,196.1 662.0,196.0 661.0,195.8 660.0,195.9 659.0,195.9 658.0,195.8 657.0,195.8 656.0,195.9 655.0,196.0 654.0,196.1 653.0,196.2 652.0,196.1 651.0,196.1 650.0,196.0 649.0,196.1 648.0,196.1 647.0,196.2 646.0,196.3 645.0,196.3 644.0,196.2 643.0,196.3 642.0,196.3 641.0,196.3 640.0,196.3 639.0,196.3 638.0,196.4 637.0,196.5 636.0,196.5 635.0,196.7 634.0,196.7 633.0,196.8 632.0,196.7 631.0,196.6 630.0,196.8 629.0,196.8 628.0,196.9 627.0,197.0 626.0,196.9 625.0,196.9 624.0,196.8 623.0,197.1 622.0,197.1 621.0,197.1 620.0,197.3 619.0,197.2 618.0,197.2 617.0,197.1 616.0,197.3 615.0,197.3 614.0,197.2 613.0,197.1 612.0,197.0 611.0,197.1 610.0,197.2 609.0,197.3 608.0,197.3 607.0,197.4 606.0,197.3 605.0,197.4 604.0,197.4 603.0,197.5 602.0,197.8 601.0,197.6 600.0,197.5 599.0,197.7 598.0,197.9 597.0,197.9 596.0,197.8 595.0,197.7 594.0,197.9 593.0,197.8 592.0,198.0 591.0,198.2 590.0,198.2 589.0,198.1 588.0,198.0 587.0,198.2 586.0,198.2 585.0,198.4 584.0,198.4 583.0,198.5 582.0,198.7 581.0,198.7 580.0,198.9 579.0,198.8 578.0,198.9 577.0,199.0 576.0,199.0 575.0,198.9 574.0,199.1 573.0,199.3 572.0,199.3 571.0,199.2 570.0,199.2 569.0,199.4 568.0,199.4 567.0,199.6 566.0,199.7 565.0,199.8 564.0,200.1 563.0,200.0 562.0,200.0 561.0,200.1 560.0,200.3 559.0,200.6 558.0,200.7 557.0,200.7 556.0,200.7 555.0,200.8 554.0,201.0 553.0,200.9 552.0,201.0 551.0,201.1 550.0,201.2 549.0,201.4 548.0,201.4 547.0,201.6 546.0,201.6 545.0,201.6 544.0,201.9 543.0,202.0 542.0,202.0 541.0,202.2 540.0,202.2 539.0,202.3 538.0,202.4 537.0,202.4 536.0,202.5 535.0,202.5 534.0,202.6 533.0,202.5 532.0,202.8 531.0,202.8 530.0,202.8 529.0,202.9 528.0,203.0 527.0,203.3 526.0,203.3 525.0,203.3 524.0,203.5 523.0,203.6 522.0,203.7 521.0,203.6 520.0,203.7 519.0,203.7 518.0,203.8 517.0,203.9 516.0,203.8 515.0,203.7 514.0,203.9 513.0,204.0 512.0,204.0 511.0,204.1 510.0,204.3 509.0,204.5 508.0,204.6 507.0,204.6 506.0,204.8 505.0,205.0 504.0,205.0 503.0,205.0 502.0,205.2 501.0,205.3 500.0,205.3 499.0,205.6 498.0,205.7 497.0,205.7 496.0,205.7 495.0,206.0 494.0,206.2 493.0,206.2 492.0,206.2 491.0,206.2 490.0,206.3 489.0,206.4 488.0,206.4 487.0,206.4 486.0,206.6 485.0,206.7 484.0,206.7 483.0,206.6 482.0,206.6 481.0,206.7 480.0,206.9 479.0,207.2 478.0,207.1 477.0,207.2 476.0,207.2 475.0,207.4 474.0,207.5 473.0,207.8 472.0,207.8 471.0,207.7 470.0,207.9 469.0,208.0 468.0,208.1 467.0,208.3 466.0,208.3 465.0,208.4 464.0,208.6 463.0,208.7 462.0,208.8 461.0,208.9 460.0,208.8 459.0,209.0 458.0,208.9 457.0,209.0 456.0,208.8 455.0,209.0 454.0,209.0 453.0,209.2 452.0,209.4 451.0,209.5 450.0,209.6 449.0,209.7 448.0,209.9 447.0,209.8 446.0,210.0 445.0,210.2 444.0,210.2 443.0,210.2 442.0,210.3 441.0,210.4 440.0,210.5 439.0,210.6 438.0,210.6 437.0,210.8 436.0,210.9 435.0,211.0 434.0,211.0 433.0,211.1 432.0,211.2 431.0,211.2 430.0,211.3 429.0,211.5 428.0,211.7 427.0,211.8 426.0,211.9 425.0,212.0 424.0,212.2 423.0,212.2 422.0,212.5 421.0,212.4 420.0,212.4 419.0,212.4 418.0,212.6 417.0,213.0 416.0,213.0 415.0,213.0 414.0,213.1 413.0,213.2 412.0,213.2 411.0,213.5 410.0,213.6 409.0,213.7 408.0,213.7 407.0,213.6 406.0,213.8 405.0,213.9 404.0,213.9 403.0,214.0 402.0,214.1 401.0,214.3 400.0,214.3 399.0,214.5 398.0,214.6 397.0,214.5 396.0,214.5 395.0,214.7 394.0,214.9 393.0,215.1 392.0,215.3 391.0,215.2 390.0,215.3 389.0,215.2 388.0,215.4 387.0,215.7 386.0,215.8 385.0,215.7 384.0,215.7 383.0,215.9 382.0,216.1 381.0,216.2 380.0,216.5 379.0,216.8 378.0,216.8 377.0,216.8 376.0,216.7 375.0,217.0 374.0,217.2 373.0,217.3 372.0,217.2 371.0,217.3 370.0,217.3 369.0,217.4 368.0,217.5 367.0,217.7 366.0,217.7 365.0,217.6 364.0,217.8 363.0,217.8 362.0,218.0 361.0,218.0 360.0,218.1 359.0,218.2 358.0,218.3 357.0,218.4 356.0,218.6 355.0,218.8 354.0,218.9 353.0,219.0 352.0,219.1 351.0,219.3 350.0,219.5 349.0,219.4 348.0,219.6 347.0,219.9 346.0,219.9 345.0,219.9 344.0,220.0 343.0,220.3 342.0,220.5 341.0,220.7 340.0,220.7 339.0,220.7 338.0,220.8 337.0,220.8 336.0,220.9 335.0,220.9 334.0,220.9 333.0,220.9 332.0,221.1 331.0,221.2 330.0,221.2 329.0,221.4 328.0,221.6 327.0,221.6 326.0,221.5 325.0,221.6 324.0,221.8 323.0,222.1 322.0,222.2 321.0,222.2 320.0,222.1 319.0,222.3 318.0,222.5 317.0,222.5 316.0,222.5 315.0,222.5 314.0,222.8 313.0,222.9 312.0,222.8 311.0,223.0 310.0,223.2 309.0,223.3 308.0,223.4 307.0,223.3 306.0,223.4 305.0,223.5 304.0,223.6 303.0,223.7 302.0,223.8 301.0,224.1 300.0,224.1 299.0,224.2 298.0,224.2 297.0,224.2 296.0,224.4 295.0,224.7 294.0,224.7 293.0,224.7 292.0,224.7 291.0,225.0 290.0,225.0 289.0,225.1 288.0,225.3 287.0,225.4 286.0,225.4 285.0,225.5 284.0,225.8 283.0,225.9 282.0,225.9 281.0,226.1 280.0,226.1 279.0,226.1 278.0,226.1 277.0,226.2 276.0,226.3 275.0,226.4 274.0,226.5 273.0,226.5 272.0,226.5 271.0,226.7 270.0,226.8 269.0,226.7 268.0,226.9 267.0,226.9 266.0,226.8 265.0,227.1 264.0,227.3 263.0,227.3 262.0,227.4 261.0,227.5 260.0,227.7 259.0,227.8 258.0,227.8 257.0,227.9 256.0,228.0 255.0,228.2 254.0,228.4 253.0,228.6 252.0,228.8 251.0,229.0 250.0,229.2 249.0,229.4 248.0,229.6 247.0,229.8 246.0,230.0 245.0,230.2 244.0,230.4 243.0,230.7 242.0,230.9 241.0,231.1 240.0,231.3 239.0,231.5 238.0,231.7 237.0,231.9 236.0,232.1 235.0,232.3 234.0,232.6 233.0,232.8 232.0,233.0 231.0,233.2 230.0,233.4 229.0,233.6 228.0,233.8 227.0,234.0 226.0,234.2 225.0,234.4 224.0,234.7 223.0,234.9 222.0,235.1 221.0,235.3 220.0,235.5 219.0,235.7 218.0,235.9 217.0,236.1 216.0,236.3 215.0,236.5 214.0,236.8 213.0,237.0 212.0,237.2 211.0,237.4 210.0,237.6 209.0,237.8 208.0,238.0 207.0,238.2 206.0,238.4 205.0,238.6 204.0,238.9 203.0,239.1 202.0,239.3 201.0,239.5 200.0,239.7 199.0,239.9 198.0,240.1 197.0,240.3 196.0,240.5 195.0,240.8 194.0,241.0 193.0,241.2 192.0,241.4 191.0,241.6 190.0,241.8 189.0,242.0 188.0,242.2 187.0,242.4 186.0,242.6 185.0,242.9 184.0,243.1 183.0,243.3 182.0,243.5 181.0,243.7 180.0,243.9 179.0,244.1 178.0,244.3 177.0,244.5 176.0,244.7 175.0,245.0 174.0,245.2 173.0,245.4 172.0,245.6 171.0,245.8 170.0,246.0 169.0,246.2 168.0,246.4 167.0,246.6 166.0,246.8 165.0,247.1 164.0,247.3 163.0,247.5 162.0,247.7 161.0,247.9 160.0,248.1 159.0,248.3 158.0,248.6 157.0,248.8 156.0,249.0 155.0,249.2 154.0,249.4 153.0,249.6 152.0,249.8 151.0,250.0 150.0,250.3 149.0,250.5 148.0,250.7 147.0,250.9 146.0,251.1 145.0,251.3 144.0,251.5 143.0,251.8 142.0,252.0 141.0,252.2 140.0,252.4 139.0,252.6 138.0,252.8 137.0,253.0 136.0,253.2 135.0,253.5 134.0,253.7 133.0,253.9 132.0,254.1 131.0,254.3 130.0,254.5 129.0,254.7 128.0,255.0 127.0,255.2 126.0,255.4 125.0,255.6 124.0,255.8 123.0,256.0 122.0,256.2 121.0,256.4 120.5,256.6" fill="#0000ff"/>
<polygon points="120.5,253.2 121.0,253.0 122.0,252.6 123.0,252.3 124.0,251.9 125.0,251.5 126.0,251.1 127.0,250.8 128.0,250.4 129.0,250.0 130.0,249.6 131.0,249.3 132.0,248.9 133.0,248.5 134.0,248.1 135.0,247.8 136.0,247.4 137.0,247.0 138.0,246.6 139.0,246.2 140.0,245.9 141.0,245.5 142.0,245.1 143.0,244.7 144.0,244.3 145.0,244.0 146.0,243.6 147.0,243.2 148.0,242.8 149.0,242.4 150.0,242.1 151.0,241.7 152.0,241.3 153.0,240.9 154.0,240.6 155.0,240.2 156.0,239.8 157.0,239.4 158.0,239.0 159.0,238.7 160.0,238.3 161.0,237.9 162.0,237.5 163.0,237.1 164.0,236.8 165.0,236.4 166.0,236.0 167.0,235.6 168.0,235.3 169.0,234.9 170.0,234.5 171.0,234.1 172.0,233.7 173.0,233.4 174.0,233.0 175.0,232.6 176.0,232.2 177.0,231.8 178.0,231.5 179.0,231.1 180.0,230.7 181.0,230.3 182.0,230.0 183.0,229.6 184.0,229.2 185.0,228.8 186.0,228.4 187.0,228.1 188.0,227.7 189.0,227.3 190.0,226.9 191.0,226.6 192.0,226.2 193.0,225.8 194.0,225.4 195.0,225.0 196.0,224.7 197.0,224.3 198.0,223.9 199.0,223.5 200.0,223.1 201.0,222.8 202.0,222.4 203.0,222.0 204.0,221.6 205.0,221.3 206.0,220.9 207.0,220.5 208.0,220.1 209.0,219.7 210.0,219.4 211.0,219.0 212.0,218.6 213.0,218.2 214.0,217.8 215.0,217.5 216.0,217.1 217.0,216.7 218.0,216.3 219.0,216.0 220.0,215.6 221.0,215.2 222.0,214.8 223.0,214.4 224.0,214.1 225.0,213.7 226.0,213.3 227.0,212.9 228.0,212.6 229.0,212.2 230.0,211.8 231.0,211.4 232.0,211.0 233.0,210.7 234.0,210.3 235.0,209.9 236.0,209.5 237.0,209.1 238.0,208.8 239.0,208.4 240.0,208.0 241.0,207.6 242.0,207.3 243.0,206.9 244.0,206.5 245.0,206.1 246.0,205.7 247.0,205.4 248.0,205.0 249.0,204.6 250.0,204.2 251.0,203.9 252.0,203.7 253.0,203.4 254.0,203.1 255.0,202.8 256.0,202.5 257.0,202.2 258.0,201.9 259.0,201.6 260.0,201.3 261.0,201.0 262.0,200.7 263.0,200.4 264.0,200.1 265.0,199.7 266.0,199.4 267.0,199.1 268.0,198.8 269.0,198.4 270.0,198.1 271.0,197.7 272.0,197.4 273.0,197.1 274.0,196.7 275.0,196.4 276.0,196.0 277.0,195.7 278.0,195.3 279.0,195.0 280.0,194.6 281.0,194.3 282.0,193.9 283.0,193.5 284.0,193.2 285.0,192.8 286.0,192.5 287.0,192.1 288.0,191.8 289.0,191.4 290.0,191.1 291.0,190.7 292.0,190.4 293.0,190.1 294.0,189.7 295.0,189.4 296.0,189.1 297.0,188.7 298.0,188.4 299.0,188.1 300.0,187.7 301.0,187.4 302.0,187.1 303.0,186.8 304.0,186.5 305.0,186.1 306.0,185.8 307.0,185.5 308.0,185.2 309.0,184.9 310.0,184.5 311.0,184.2 312.0,183.9 313.0,183.6 314.0,183.3 315.0,183.0 316.0,182.6 317.0,182.3 318.0,182.0 319.0,181.7 320.0,181.4 321.0,181.1 322.0,180.8 323.0,180.5 324.0,180.2 325.0,179.9 326.0,179.6 327.0,179.3 328.0,179.0 329.0,178.7 330.0,178.4 331.0,178.1 332.0,177.8 333.0,177.5 334.0,177.2 335.0,176.9 336.0,176.7 337.0,176.4 338.0,176.1 339.0,175.8 340.0,175.5 341.0,175.3 342.0,175.0 343.0,174.7 344.0,174.5 345.0,174.2 346.0,174.0 347.0,173.7 348.0,173.4 349.0,173.2 350.0,172.9 351.0,172.7 352.0,172.4 353.0,172.2 354.0,171.9 355.0,171.7 356.0,171.4 357.0,171.2 358.0,171.0 359.0,170.7 360.0,170.5 361.0,170.2 362.0,170.0 363.0,169.8 364.0,169.5 365.0,169.3 366.0,169.1 367.0,168.8 368.0,168.6 369.0,168.4 370.0,168.1 371.0,167.9 372.0,167.7 373.0,167.4 374.0,167.2 375.0,167.0 376.0,166.7 377.0,166.5 378.0,166.3 379.0,166.1 380.0,165.8 381.0,165.6 382.0,165.4 383.0,165.2 384.0,164.9 385.0,164.7 386.0,164.5 387.0,164.3 388.0,164.0 389.0,163.8 390.0,163.6 391.0,163.4 392.0,163.2 393.0,162.9 394.0,162.7 395.0,162.5 396.0,162.3 397.0,162.1 398.0,161.9 399.0,161.6 400.0,161.4 401.0,161.2 402.0,161.0 403.0,160.8 404.0,160.6 405.0,160.4 406.0,160.1 407.0,159.9 408.0,159.7 409.0,159.5 410.0,159.3 411.0,159.1 412.0,158.9 413.0,158.7 414.0,158.5 415.0,158.2 416.0,158.0 417.0,157.8 418.0,157.6 419.0,157.4 420.0,157.2 421.0,157.0 422.0,156.8 423.0,156.6 424.0,156.4 425.0,156.2 426.0,156.0 427.0,155.8 428.0,155.5 429.0,155.3 430.0,155.1 431.0,154.9 432.0,154.7 433.0,154.5 434.0,154.3 435.0,154.1 436.0,153.9 437.0,153.7 438.0,153.5 439.0,153.3 440.0,153.1 441.0,152.9 442.0,152.7 443.0,152.5 444.0,152.3 445.0,152.1 446.0,151.9 447.0,151.7 448.0,151.5 449.0,151.3 450.0,151.1 451.0,150.9 452.0,150.7 453.0,150.5 454.0,150.3 455.0,150.1 456.0,149.9 457.0,149.7 458.0,149.5 459.0,149.3 460.0,149.1 461.0,148.9 462.0,148.7 463.0,148.5 464.0,148.3 465.0,148.1 466.0,147.9 467.0,147.7 468.0,147.5 469.0,147.3 470.0,147.1 471.0,146.9 472.0,146.7 473.0,146.5 474.0,146.4 475.0,146.2 476.0,146.0 477.0,145.8 478.0,145.6 479.0,145.4 480.0,145.2 481.0,145.0 482.0,144.9 483.0,144.7 484.0,144.5 485.0,144.3 486.0,144.1 487.0,143.9 488.0,143.8 489.0,143.6 490.0,143.4 491.0,143.2 492.0,143.0 493.0,142.9 494.0,142.7 495.0,142.5 496.0,142.3 497.0,142.2 498.0,142.0 499.0,141.8 500.0,141.7 501.0,141.5 502.0,141.3 503.0,141.1 504.0,141.0 505.0,140.8 506.0,140.6 507.0,140.5 508.0,140.3 509.0,140.1 510.0,140.0 511.0,139.8 512.0,139.6 513.0,139.5 514.0,139.3 515.0,139.2 516.0,139.0 517.0,138.8 518.0,138.7 519.0,138.5 520.0,138.3 521.0,138.2 522.0,138.0 523.0,137.9 524.0,137.7 525.0,137.5 526.0,137.4 527.0,137.2 528.0,137.1 529.0,136.9 530.0,136.8 531.0,136.6 532.0,136.4 533.0,136.3 534.0,136.1 535.0,136.0 536.0,135.8 537.0,135.7 538.0,135.5 539.0,135.4 540.0,135.2 541.0,135.0 542.0,134.9 543.0,134.7 544.0,134.6 545.0,134.4 546.0,134.3 547.0,134.1 548.0,134.0 549.0,133.8 550.0,133.7 551.0,133.5 552.0,133.4 553.0,133.2 554.0,133.1 555.0,132.9 556.0,132.8 557.0,132.7 558.0,132.5 559.0,132.4 560.0,132.2 561.0,132.1 562.0,131.9 563.0,131.8 564.0,131.6 565.0,131.5 566.0,131.3 567.0,131.2 568.0,131.1 569.0,130.9 570.0,130.8 571.0,130.6 572.0,130.5 573.0,130.3 574.0,130.2 575.0,130.1 576.0,129.9 577.0,129.8 578.0,129.6 579.0,129.5 580.0,129.3 581.0,129.2 582.0,129.1 583.0,128.9 584.0,128.8 585.0,128.6 586.0,128.5 587.0,128.4 588.0,128.2 589.0,128.1 590.0,127.9 591.0,127.8 592.0,127.6 593.0,127.5 594.0,127.4 595.0,127.2 596.0,127.1 597.0,126.9 598.0,126.8 599.0,126.6 600.0,126.5 601.0,126.4 602.0,126.2 603.0,126.1 604.0,125.9 605.0,125.8 606.0,125.6 607.0,125.5 608.0,125.3 609.0,125.2 610.0,125.1 611.0,124.9 612.0,124.8 613.0,124.6 614.0,124.5 615.0,124.3 616.0,124.2 617.0,124.0 618.0,123.9 619.0,123.7 620.0,123.6 621.0,123.5 622.0,123.3 623.0,123.2 624.0,123.0 625.0,122.9 626.0,122.7 627.0,122.6 628.0,122.5 629.0,122.3 630.0,122.2 631.0,122.0 632.0,121.9 633.0,121.8 634.0,121.6 635.0,121.5 636.0,121.3 637.0,121.2 638.0,121.1 639.0,120.9 640.0,120.8 641.0,120.7 642.0,120.5 643.0,120.4 644.0,120.3 645.0,120.1 646.0,120.0 647.0,119.9 648.0,119.7 649.0,119.6 650.0,119.5 651.0,119.4 652.0,119.2 653.0,119.1 654.0,119.0 655.0,118.9 656.0,118.7 657.0,118.6 658.0,118.5 659.0,118.4 660.0,118.2 661.0,118.1 662.0,118.0 663.0,117.9 664.0,117.7 665.0,117.6 666.0,117.5 667.0,117.4 668.0,117.2 669.0,117.1 670.0,117.0 671.0,116.9 672.0,116.7 673.0,116.6 674.0,116.5 675.0,116.4 676.0,116.3 677.0,116.1 678.0,116.0 679.0,115.9 680.0,115.8 681.0,115.6 682.0,115.5 683.0,115.4 684.0,115.3 685.0,115.1 686.0,115.0 687.0,114.9 688.0,114.8 689.0,114.6 690.0,114.5 691.0,114.4 692.0,114.2 693.0,114.1 694.0,114.0 695.0,113.9 696.0,113.7 697.0,113.6 698.0,113.5 699.0,113.3 700.0,113.2 701.0,113.0 702.0,112.9 703.0,112.8 704.0,112.6 705.0,112.5 706.0,112.4 707.0,112.2 708.0,112.1 709.0,112.0 710.0,111.8 711.0,111.7 712.0,111.6 713.0,111.4 714.0,111.3 715.0,111.1 716.0,111.0 717.0,110.9 718.0,110.7 719.0,110.6 720.0,110.5 721.0,110.3 722.0,110.2 723.0,110.1 724.0,110.0 725.0,109.8 726.0,109.7 727.0,109.6 728.0,109.4 729.0,109.3 730.0,109.2 731.0,109.1 732.0,108.9 733.0,108.8 734.0,108.7 735.0,108.6 736.0,108.5 737.0,108.3 738.0,108.2 739.0,108.1 740.0,108.0 741.0,107.9 742.0,107.8 743.0,107.7 744.0,107.6 745.0,107.5 746.0,107.3 747.0,107.2 748.0,107.1 749.0,107.0 750.0,106.9 751.0,106.8 752.0,106.7 753.0,106.6 754.0,106.5 755.0,106.4 756.0,106.3 757.0,106.2 758.0,106.1 759.0,106.0 760.0,105.9 761.0,105.8 762.0,105.7 763.0,105.6 764.0,105.5 765.0,105.5 766.0,105.4 767.0,105.3 768.0,105.2 769.0,105.1 770.0,105.0 770.0,108.0 769.0,108.1 768.0,108.2 767.0,108.3 766.0,108.4 765.0,108.5 764.0,108.5 763.0,108.6 762.0,108.7 761.0,108.8 760.0,108.9 759.0,109.0 758.0,109.1 757.0,109.2 756.0,109.3 755.0,109.4 754.0,109.5 753.0,109.6 752.0,109.7 751.0,109.8 750.0,109.9 749.0,110.0 748.0,110.1 747.0,110.2 746.0,110.3 745.0,110.5 744.0,110.6 743.0,110.7 742.0,110.8 741.0,110.9 740.0,111.0 739.0,111.1 738.0,111.2 737.0,111.3 736.0,111.5 735.0,111.6 734.0,111.7 733.0,111.8 732.0,111.9 731.0,112.1 730.0,112.2 729.0,112.3 728.0,112.4 727.0,112.6 726.0,112.7 725.0,112.8 724.0,113.0 723.0,113.1 722.0,113.2 721.0,113.3 720.0,113.5 719.0,113.6 718.0,113.7 717.0,113.9 716.0,114.0 715.0,114.1 714.0,114.3 713.0,114.4 712.0,114.6 711.0,114.7 710.0,114.8 709.0,115.0 708.0,115.1 707.0,115.2 706.0,115.4 705.0,115.5 704.0,115.6 703.0,115.8 702.0,115.9 701.0,116.0 700.0,116.2 699.0,116.3 698.0,116.5 697.0,116.6 696.0,116.7 695.0,116.9 694.0,117.0 693.0,117.1 692.0,117.2 691.0,117.4 690.0,117.5 689.0,117.6 688.0,117.8 687.0,117.9 686.0,118.0 685.0,118.1 684.0,118.3 683.0,118.4 682.0,118.5 681.0,118.6 680.0,118.8 679.0,118.9 678.0,119.0 677.0,119.1 676.0,119.3 675.0,119.4 674.0,119.5 673.0,119.6 672.0,119.7 671.0,119.9 670.0,120.0 669.0,120.1 668.0,120.2 667.0,120.4 666.0,120.5 665.0,120.6 664.0,120.7 663.0,120.9 662.0,121.0 661.0,121.1 660.0,121.2 659.0,121.4 658.0,121.5 657.0,121.6 656.0,121.7 655.0,121.9 654.0,122.0 653.0,122.1 652.0,122.2 651.0,122.4 650.0,122.5 649.0,122.6 648.0,122.7 647.0,122.9 646.0,123.0 645.0,123.1 644.0,123.3 643.0,123.4 642.0,123.5 641.0,123.7 640.0,123.8 639.0,123.9 638.0,124.1 637.0,124.2 636.0,124.3 635.0,124.5 634.0,124.6 633.0,124.8 632.0,124.9 631.0,125.0 630.0,125.2 629.0,125.3 628.0,125.5 627.0,125.6 626.0,125.7 625.0,125.9 624.0,126.0 623.0,126.2 622.0,126.3 621.0,126.5 620.0,126.6 619.0,126.7 618.0,126.9 617.0,127.0 616.0,127.2 615.0,127.3 614.0,127.5 613.0,127.6 612.0,127.8 611.0,127.9 610.0,128.1 609.0,128.2 608.0,128.3 607.0,128.5 606.0,128.6 605.0,128.8 604.0,128.9 603.0,129.1 602.0,129.2 601.0,129.4 600.0,129.5 599.0,129.6 598.0,129.8 597.0,129.9 596.0,130.1 595.0,130.2 594.0,130.4 593.0,130.5 592.0,130.6 591.0,130.8 590.0,130.9 589.0,131.1 588.0,131.2 587.0,131.4 586.0,131.5 585.0,131.6 584.0,131.8 583.0,131.9 582.0,132.1 581.0,132.2 580.0,132.3 579.0,132.5 578.0,132.6 577.0,132.8 576.0,132.9 575.0,133.1 574.0,133.2 573.0,133.3 572.0,133.5 571.0,133.6 570.0,133.8 569.0,133.9 568.0,134.1 567.0,134.2 566.0,134.3 565.0,134.5 564.0,134.6 563.0,134.8 562.0,134.9 561.0,135.1 560.0,135.2 559.0,135.4 558.0,135.5 557.0,135.7 556.0,135.8 555.0,135.9 554.0,136.1 553.0,136.2 552.0,136.4 551.0,136.5 550.0,136.7 549.0,136.8 548.0,137.0 547.0,137.1 546.0,137.3 545.0,137.4 544.0,137.6 543.0,137.7 542.0,137.9 541.0,138.0 540.0,138.2 539.0,138.4 538.0,138.5 537.0,138.7 536.0,138.8 535.0,139.0 534.0,139.1 533.0,139.3 532.0,139.4 531.0,139.6 530.0,139.8 529.0,139.9 528.0,140.1 527.0,140.2 526.0,140.4 525.0,140.5 524.0,140.7 523.0,140.9 522.0,141.0 521.0,141.2 520.0,141.3 519.0,141.5 518.0,141.7 517.0,141.8 516.0,142.0 515.0,142.2 514.0,142.3 513.0,142.5 512.0,142.6 511.0,142.8 510.0,143.0 509.0,143.1 508.0,143.3 507.0,143.5 506.0,143.6 505.0,143.8 504.0,144.0 503.0,144.1 502.0,144.3 501.0,144.5 500.0,144.7 499.0,144.8 498.0,145.0 497.0,145.2 496.0,145.3 495.0,145.5 494.0,145.7 493.0,145.9 492.0,146.0 491.0,146.2 490.0,146.4 489.0,146.6 488.0,146.8 487.0,146.9 486.0,147.1 485.0,147.3 484.0,147.5 483.0,147.7 482.0,147.9 481.0,148.0 480.0,148.2 479.0,148.4 478.0,148.6 477.0,148.8 476.0,149.0 475.0,149.2 474.0,149.4 473.0,149.5 472.0,149.7 471.0,149.9 470.0,150.1 469.0,150.3 468.0,150.5 467.0,150.7 466.0,150.9 465.0,151.1 464.0,151.3 463.0,151.5 462.0,151.7 461.0,151.9 460.0,152.1 459.0,152.3 458.0,152.5 457.0,152.7 456.0,152.9 455.0,153.1 454.0,153.3 453.0,153.5 452.0,153.7 451.0,153.9 450.0,154.1 449.0,154.3 448.0,154.5 447.0,154.7 446.0,154.9 445.0,155.1 444.0,155.3 443.0,155.5 442.0,155.7 441.0,155.9 440.0,156.1 439.0,156.3 438.0,156.5 437.0,156.7 436.0,156.9 435.0,157.1 434.0,157.3 433.0,157.5 432.0,157.7 431.0,157.9 430.0,158.1 429.0,158.4 428.0,158.6 427.0,158.8 426.0,159.0 425.0,159.2 424.0,159.4 423.0,159.6 422.0,159.8 421.0,160.0 420.0,160.2 419.0,160.4 418.0,160.6 417.0,160.8 416.0,161.1 415.0,161.3 414.0,161.5 413.0,161.7 412.0,161.9 411.0,162.1 410.0,162.3 409.0,162.5 408.0,162.8 407.0,163.0 406.0,163.2 405.0,163.4 404.0,163.6 403.0,163.8 402.0,164.0 401.0,164.3 400.0,164.5 399.0,164.7 398.0,164.9 397.0,165.1 396.0,165.3 395.0,165.6 394.0,165.8 393.0,166.0 392.0,166.2 391.0,166.4 390.0,166.7 389.0,166.9 388.0,167.1 387.0,167.3 386.0,167.5 385.0,167.8 384.0,168.0 383.0,168.2 382.0,168.4 381.0,168.7 380.0,168.9 379.0,169.1 378.0,169.4 377.0,169.6 376.0,169.8 375.0,170.0 374.0,170.3 373.0,170.5 372.0,170.7 371.0,171.0 370.0,171.2 369.0,171.4 368.0,171.7 367.0,171.9 366.0,172.1 365.0,172.4 364.0,172.6 363.0,172.8 362.0,173.1 361.0,173.3 360.0,173.6 359.0,173.8 358.0,174.0 357.0,174.3 356.0,174.5 355.0,174.8 354.0,175.0 353.0,175.3 352.0,175.5 351.0,175.8 350.0,176.0 349.0,176.3 348.0,176.5 347.0,176.8 346.0,177.1 345.0,177.3 344.0,177.6 343.0,177.8 342.0,178.1 341.0,178.4 340.0,178.7 339.0,178.9 338.0,179.2 337.0,179.5 336.0,179.8 335.0,180.0 334.0,180.3 333.0,180.6 332.0,180.9 331.0,181.2 330.0,181.5 329.0,181.8 328.0,182.1 327.0,182.4 326.0,182.7 325.0,183.0 324.0,183.3 323.0,183.6 322.0,183.9 321.0,184.2 320.0,184.5 319.0,184.8 318.0,185.1 317.0,185.4 316.0,185.8 315.0,186.1 314.0,186.4 313.0,186.7 312.0,187.0 311.0,187.3 310.0,187.7 309.0,188.0 308.0,188.3 307.0,188.6 306.0,188.9 305.0,189.3 304.0,189.6 303.0,189.9 302.0,190.2 301.0,190.5 300.0,190.9 299.0,191.2 298.0,191.5 297.0,191.8 296.0,192.2 295.0,192.5 294.0,192.8 293.0,193.2 292.0,193.5 291.0,193.9 290.0,194.2 289.0,194.6 288.0,194.9 287.0,195.3 286.0,195.6 285.0,196.0 284.0,196.3 283.0,196.7 282.0,197.0 281.0,197.4 280.0,197.7 279.0,198.1 278.0,198.4 277.0,198.8 276.0,199.1 275.0,199.5 274.0,199.8 273.0,200.2 272.0,200.5 271.0,200.9 270.0,201.2 269.0,201.5 268.0,201.9 267.0,202.2 266.0,202.6 265.0,202.9 264.0,203.2 263.0,203.5 262.0,203.8 261.0,204.2 260.0,204.5 259.0,204.8 258.0,205.1 257.0,205.4 256.0,205.7 255.0,206.0 254.0,206.2 253.0,206.5 252.0,206.8 251.0,207.1 250.0,207.4 249.0,207.7 248.0,208.1 247.0,208.5 246.0,208.9 245.0,209.3 244.0,209.6 243.0,210.0 242.0,210.4 241.0,210.8 240.0,211.2 239.0,211.5 238.0,211.9 237.0,212.3 236.0,212.7 235.0,213.1 234.0,213.4 233.0,213.8 232.0,214.2 231.0,214.6 230.0,214.9 229.0,215.3 228.0,215.7 227.0,216.1 226.0,216.5 225.0,216.8 224.0,217.2 223.0,217.6 222.0,218.0 221.0,218.4 220.0,218.7 219.0,219.1 218.0,219.5 217.0,219.9 216.0,220.2 215.0,220.6 214.0,221.0 213.0,221.4 212.0,221.8 211.0,222.1 210.0,222.5 209.0,222.9 208.0,223.3 207.0,223.7 206.0,224.0 205.0,224.4 204.0,224.8 203.0,225.2 202.0,225.6 201.0,225.9 200.0,226.3 199.0,226.7 198.0,227.1 197.0,227.4 196.0,227.8 195.0,228.2 194.0,228.6 193.0,229.0 192.0,229.3 191.0,229.7 190.0,230.1 189.0,230.5 188.0,230.9 187.0,231.2 186.0,231.6 185.0,232.0 184.0,232.4 183.0,232.8 182.0,233.1 181.0,233.5 180.0,233.9 179.0,234.3 178.0,234.6 177.0,235.0 176.0,235.4 175.0,235.8 174.0,236.2 173.0,236.5 172.0,236.9 171.0,237.3 170.0,237.7 169.0,238.1 168.0,238.4 167.0,238.8 166.0,239.2 165.0,239.6 164.0,239.9 163.0,240.3 162.0,240.7 161.0,241.1 160.0,241.5 159.0,241.8 158.0,242.2 157.0,242.6 156.0,243.0 155.0,243.4 154.0,243.7 153.0,244.1 152.0,244.5 151.0,244.9 150.0,245.3 149.0,245.6 148.0,246.0 147.0,246.4 146.0,246.8 145.0,247.2 144.0,247.5 143.0,247.9 142.0,248.3 141.0,248.7 140.0,249.0 139.0,249.4 138.0,249.8 137.0,250.2 136.0,250.6 135.0,250.9 134.0,251.3 133.0,251.7 132.0,252.1 131.0,252.5 130.0,252.8 129.0,253.2 128.0,253.6 127.0,254.0 126.0,254.3 125.0,254.7 124.0,255.1 123.0,255.5 122.0,255.8 121.0,256.2 120.5,256.4" fill="#f6a625"/>
<polygon points="120.5,261.2 121.0,261.3 122.0,261.4 123.0,261.6 124.0,261.7 125.0,261.9 126.0,262.0 127.0,262.2 128.0,262.3 129.0,262.5 130.0,262.6 131.0,262.8 132.0,262.9 133.0,263.1 134.0,263.2 135.0,263.4 136.0,263.5 137.0,263.7 138.0,263.8 139.0,264.0 140.0,264.1 141.0,264.3 142.0,264.4 143.0,264.6 144.0,264.8 145.0,264.9 146.0,265.1 147.0,265.2 148.0,265.4 149.0,265.5 150.0,265.7 151.0,265.8 152.0,266.0 153.0,266.1 154.0,266.3 155.0,266.4 156.0,266.6 157.0,266.7 158.0,266.9 159.0,267.0 160.0,267.2 161.0,267.3 162.0,267.5 163.0,267.6 164.0,267.8 165.0,267.9 166.0,268.1 167.0,268.2 168.0,268.4 169.0,268.6 170.0,268.7 171.0,268.9 172.0,269.1 173.0,269.2 174.0,269.4 175.0,269.5 176.0,269.7 177.0,269.9 178.0,270.0 179.0,270.2 180.0,270.4 181.0,270.5 182.0,270.7 183.0,270.8 184.0,271.0 185.0,271.2 186.0,271.3 187.0,271.5 188.0,271.7 189.0,271.8 190.0,272.0 191.0,272.2 192.0,272.3 193.0,272.5 194.0,272.6 195.0,272.8 196.0,273.0 197.0,273.1 198.0,273.3 199.0,273.5 200.0,273.6 201.0,273.8 202.0,273.9 203.0,274.1 204.0,274.3 205.0,274.4 206.0,274.6 207.0,274.8 208.0,274.9 209.0,275.1 210.0,275.2 211.0,275.4 212.0,275.6 213.0,275.8 214.0,276.0 215.0,276.2 216.0,276.4 217.0,276.5 218.0,276.7 219.0,276.9 220.0,277.1 221.0,277.3 222.0,277.5 223.0,277.6 224.0,277.8 225.0,278.0 226.0,278.2 227.0,278.4 228.0,278.6 229.0,278.7 230.0,278.9 231.0,279.1 232.0,279.3 233.0,279.5 234.0,279.7 235.0,279.8 236.0,280.0 237.0,280.2 238.0,280.4 239.0,280.6 240.0,280.8 241.0,280.9 242.0,281.1 243.0,281.3 244.0,281.5 245.0,281.7 246.0,281.9 247.0,282.0 248.0,282.2 249.0,282.4 250.0,282.6 251.0,282.8 252.0,283.0 253.0,283.1 254.0,283.3 255.0,283.5 256.0,283.8 257.0,284.0 258.0,284.3 259.0,284.5 260.0,284.8 261.0,285.0 262.0,285.3 263.0,285.6 264.0,285.8 265.0,286.1 266.0,286.3 267.0,286.6 268.0,286.8 269.0,287.1 270.0,287.4 271.0,287.6 272.0,287.9 273.0,288.2 274.0,288.4 275.0,288.7 276.0,288.9 277.0,289.2 278.0,289.5 279.0,289.7 280.0,290.0 281.0,290.2 282.0,290.5 283.0,290.7 284.0,291.0 285.0,291.3 286.0,291.5 287.0,291.7 288.0,292.0 289.0,292.2 290.0,292.5 291.0,292.7 292.0,292.9 293.0,293.2 294.0,293.4 295.0,293.6 296.0,293.9 297.0,294.1 298.0,294.3 299.0,294.5 300.0,294.7 301.0,294.9 302.0,295.1 303.0,295.3 304.0,295.5 305.0,295.7 306.0,295.9 307.0,296.1 308.0,296.3 309.0,296.4 310.0,296.6 311.0,296.8 312.0,297.0 313.0,297.2 314.0,297.4 315.0,297.5 316.0,297.7 317.0,297.9 318.0,298.1 319.0,298.2 320.0,298.4 321.0,298.6 322.0,298.7 323.0,298.9 324.0,299.1 325.0,299.2 326.0,299.4 327.0,299.6 328.0,299.7 329.0,299.9 330.0,300.0 331.0,300.2 332.0,300.4 333.0,300.5 334.0,300.7 335.0,300.8 336.0,301.0 337.0,301.1 338.0,301.3 339.0,301.4 340.0,301.6 341.0,301.8 342.0,301.9 343.0,302.1 344.0,302.2 345.0,302.4 346.0,302.5 347.0,302.7 348.0,302.8 349.0,303.0 350.0,303.1 351.0,303.3 352.0,303.4 353.0,303.5 354.0,303.7 355.0,303.8 356.0,304.0 357.0,304.1 358.0,304.3 359.0,304.4 360.0,304.5 361.0,304.7 362.0,304.8 363.0,305.0 364.0,305.1 365.0,305.2 366.0,305.4 367.0,305.5 368.0,305.6 369.0,305.8 370.0,305.9 371.0,306.0 372.0,306.2 373.0,306.3 374.0,306.4 375.0,306.6 376.0,306.7 377.0,306.8 378.0,306.9 379.0,307.1 380.0,307.2 381.0,307.3 382.0,307.5 383.0,307.6 384.0,307.7 385.0,307.8 386.0,307.9 387.0,308.1 388.0,308.2 389.0,308.3 390.0,308.4 391.0,308.5 392.0,308.7 393.0,308.8 394.0,308.9 395.0,309.0 396.0,309.1 397.0,309.2 398.0,309.3 399.0,309.5 400.0,309.6 401.0,309.7 402.0,309.8 403.0,309.9 404.0,310.0 405.0,310.1 406.0,310.2 407.0,310.4 408.0,310.5 409.0,310.6 410.0,310.7 411.0,310.8 412.0,310.9 413.0,311.0 414.0,311.1 415.0,311.2 416.0,311.3 417.0,311.5 418.0,311.6 419.0,311.7 420.0,311.8 421.0,311.9 422.0,312.0 423.0,312.1 424.0,312.2 425.0,312.3 426.0,312.4 427.0,312.6 428.0,312.7 429.0,312.8 430.0,312.9 431.0,313.0 432.0,313.1 433.0,313.2 434.0,313.3 435.0,313.5 436.0,313.6 437.0,313.7 438.0,313.8 439.0,313.9 440.0,314.0 441.0,314.1 442.0,314.2 443.0,314.4 444.0,314.5 445.0,314.6 446.0,314.7 447.0,314.8 448.0,314.9 449.0,315.0 450.0,315.1 451.0,315.2 452.0,315.3 453.0,315.4 454.0,315.5 455.0,315.6 456.0,315.7 457.0,315.8 458.0,315.9 459.0,316.0 460.0,316.1 461.0,316.2 462.0,316.3 463.0,316.4 464.0,316.5 465.0,316.6 466.0,316.7 467.0,316.8 468.0,316.8 469.0,316.9 470.0,317.0 471.0,317.1 472.0,317.2 473.0,317.3 474.0,317.4 475.0,317.5 476.0,317.6 477.0,317.7 478.0,317.8 479.0,317.8 480.0,317.9 481.0,318.0 482.0,318.1 483.0,318.2 484.0,318.3 485.0,318.4 486.0,318.5 487.0,318.6 488.0,318.6 489.0,318.7 490.0,318.8 491.0,318.9 492.0,319.0 493.0,319.1 494.0,319.2 495.0,319.3 496.0,319.3 497.0,319.4 498.0,319.5 499.0,319.6 500.0,319.7 501.0,319.8 502.0,319.9 503.0,320.0 504.0,320.0 505.0,320.1 506.0,320.2 507.0,320.3 508.0,320.4 509.0,320.5 510.0,320.6 511.0,320.6 512.0,320.7 513.0,320.8 514.0,320.9 515.0,321.0 516.0,321.1 517.0,321.2 518.0,321.2 519.0,321.3 520.0,321.4 521.0,321.5 522.0,321.6 523.0,321.7 524.0,321.7 525.0,321.8 526.0,321.9 527.0,322.0 528.0,322.1 529.0,322.1 530.0,322.2 531.0,322.3 532.0,322.4 533.0,322.5 534.0,322.6 535.0,322.6 536.0,322.7 537.0,322.8 538.0,322.9 539.0,323.0 540.0,323.1 541.0,323.1 542.0,323.2 543.0,323.3 544.0,323.4 545.0,323.5 546.0,323.6 547.0,323.6 548.0,323.7 549.0,323.8 550.0,323.9 551.0,324.0 552.0,324.1 553.0,324.2 554.0,324.2 555.0,324.3 556.0,324.4 557.0,324.5 558.0,324.6 559.0,324.7 560.0,324.7 561.0,324.8 562.0,324.9 563.0,325.0 564.0,325.1 565.0,325.2 566.0,325.3 567.0,325.3 568.0,325.4 569.0,325.5 570.0,325.6 571.0,325.7 572.0,325.8 573.0,325.9 574.0,325.9 575.0,326.0 576.0,326.1 577.0,326.2 578.0,326.3 579.0,326.4 580.0,326.5 581.0,326.5 582.0,326.6 583.0,326.7 584.0,326.8 585.0,326.9 586.0,327.0 587.0,327.1 588.0,327.1 589.0,327.2 590.0,327.3 591.0,327.4 592.0,327.5 593.0,327.6 594.0,327.7 595.0,327.8 596.0,327.8 597.0,327.9 598.0,328.0 599.0,328.1 600.0,328.2 601.0,328.3 602.0,328.4 603.0,328.5 604.0,328.6 605.0,328.6 606.0,328.7 607.0,328.8 608.0,328.9 609.0,329.0 610.0,329.1 611.0,329.2 612.0,329.3 613.0,329.4 614.0,329.5 615.0,329.5 616.0,329.6 617.0,329.7 618.0,329.8 619.0,329.9 620.0,330.0 621.0,330.1 622.0,330.2 623.0,330.3 624.0,330.4 625.0,330.5 626.0,330.5 627.0,330.6 628.0,330.7 629.0,330.8 630.0,330.9 631.0,331.0 632.0,331.1 633.0,331.2 634.0,331.3 635.0,331.4 636.0,331.5 637.0,331.5 638.0,331.6 639.0,331.7 640.0,331.8 641.0,331.9 642.0,332.0 643.0,332.1 644.0,332.2 645.0,332.3 646.0,332.4 647.0,332.5 648.0,332.6 649.0,332.7 650.0,332.8 651.0,332.8 652.0,332.9 653.0,333.0 654.0,333.1 655.0,333.2 656.0,333.3 657.0,333.4 658.0,333.5 659.0,333.6 660.0,333.7 661.0,333.8 662.0,333.9 663.0,334.0 664.0,334.1 665.0,334.2 666.0,334.3 667.0,334.4 668.0,334.5 669.0,334.6 670.0,334.7 671.0,334.7 672.0,334.8 673.0,334.9 674.0,335.0 675.0,335.1 676.0,335.2 677.0,335.3 678.0,335.4 679.0,335.5 680.0,335.6 681.0,335.7 682.0,335.8 683.0,335.9 684.0,336.0 685.0,336.1 686.0,336.2 687.0,336.3 688.0,336.4 689.0,336.5 690.0,336.6 691.0,336.7 692.0,336.8 693.0,336.9 694.0,337.0 695.0,337.1 696.0,337.2 697.0,337.3 698.0,337.4 699.0,337.5 700.0,337.6 701.0,337.7 702.0,337.8 703.0,337.9 704.0,338.0 705.0,338.1 706.0,338.2 707.0,338.3 708.0,338.4 709.0,338.5 710.0,338.6 711.0,338.7 712.0,338.8 713.0,338.9 714.0,339.0 715.0,339.1 716.0,339.2 717.0,339.3 718.0,339.4 719.0,339.5 720.0,339.6 721.0,339.7 722.0,339.8 723.0,340.0 724.0,340.1 725.0,340.2 726.0,340.3 727.0,340.4 728.0,340.5 729.0,340.6 730.0,340.7 731.0,340.8 732.0,340.9 733.0,341.0 734.0,341.1 735.0,341.2 736.0,341.3 737.0,341.4 738.0,341.5 739.0,341.6 740.0,341.7 741.0,341.8 742.0,342.0 743.0,342.1 744.0,342.2 745.0,342.3 746.0,342.4 747.0,342.5 748.0,342.6 749.0,342.7 750.0,342.8 751.0,342.9 752.0,343.0 753.0,343.1 754.0,343.2 755.0,343.4 756.0,343.5 757.0,343.6 758.0,343.7 759.0,343.8 760.0,343.9 761.0,344.0 762.0,344.1 763.0,344.2 764.0,344.3 765.0,344.4 766.0,344.6 767.0,344.7 768.0,344.8 769.0,344.9 770.0,345.0 770.0,349.0 769.0,348.9 768.0,348.8 767.0,348.7 766.0,348.6 765.0,348.4 764.0,348.3 763.0,348.2 762.0,348.1 761.0,348.0 760.0,347.9 759.0,347.8 758.0,347.7 757.0,347.6 756.0,347.5 755.0,347.4 754.0,347.2 753.0,347.1 752.0,347.0 751.0,346.9 750.0,346.8 749.0,346.7 748.0,346.6 747.0,346.5 746.0,346.4 745.0,346.3 744.0,346.2 743.0,346.1 742.0,346.0 741.0,345.8 740.0,345.7 739.0,345.6 738.0,345.5 737.0,345.4 736.0,345.3 735.0,345.2 734.0,345.1 733.0,345.0 732.0,344.9 731.0,344.8 730.0,344.7 729.0,344.6 728.0,344.5 727.0,344.4 726.0,344.3 725.0,344.2 724.0,344.1 723.0,344.0 722.0,343.8 721.0,343.7 720.0,343.6 719.0,343.5 718.0,343.4 717.0,343.3 716.0,343.2 715.0,343.1 714.0,343.0 713.0,342.9 712.0,342.8 711.0,342.7 710.0,342.6 709.0,342.5 708.0,342.4 707.0,342.3 706.0,342.2 705.0,342.1 704.0,342.0 703.0,341.9 702.0,341.8 701.0,341.7 700.0,341.6 699.0,341.5 698.0,341.4 697.0,341.3 696.0,341.2 695.0,341.1 694.0,341.0 693.0,340.9 692.0,340.8 691.0,340.7 690.0,340.6 689.0,340.5 688.0,340.4 687.0,340.3 686.0,340.2 685.0,340.1 684.0,340.0 683.0,339.9 682.0,339.8 681.0,339.7 680.0,339.6 679.0,339.5 678.0,339.4 677.0,339.3 676.0,339.2 675.0,339.1 674.0,339.0 673.0,338.9 672.0,338.8 671.0,338.7 670.0,338.7 669.0,338.6 668.0,338.5 667.0,338.4 666.0,338.3 665.0,338.2 664.0,338.1 663.0,338.0 662.0,337.9 661.0,337.8 660.0,337.7 659.0,337.6 658.0,337.5 657.0,337.4 656.0,337.3 655.0,337.2 654.0,337.1 653.0,337.0 652.0,336.9 651.0,336.8 650.0,336.8 649.0,336.7 648.0,336.6 647.0,336.5 646.0,336.4 645.0,336.3 644.0,336.2 643.0,336.1 642.0,336.0 641.0,335.9 640.0,335.8 639.0,335.7 638.0,335.6 637.0,335.5 636.0,335.5 635.0,335.4 634.0,335.3 633.0,335.2 632.0,335.1 631.0,335.0 630.0,334.9 629.0,334.8 628.0,334.7 627.0,334.6 626.0,334.5 625.0,334.5 624.0,334.4 623.0,334.3 622.0,334.2 621.0,334.1 620.0,334.0 619.0,333.9 618.0,333.8 617.0,333.7 616.0,333.6 615.0,333.5 614.0,333.5 613.0,333.4 612.0,333.3 611.0,333.2 610.0,333.1 609.0,333.0 608.0,332.9 607.0,332.8 606.0,332.7 605.0,332.6 604.0,332.6 603.0,332.5 602.0,332.4 601.0,332.3 600.0,332.2 599.0,332.1 598.0,332.0 597.0,331.9 596.0,331.8 595.0,331.8 594.0,331.7 593.0,331.6 592.0,331.5 591.0,331.4 590.0,331.3 589.0,331.2 588.0,331.1 587.0,331.1 586.0,331.0 585.0,330.9 584.0,330.8 583.0,330.7 582.0,330.6 581.0,330.5 580.0,330.5 579.0,330.4 578.0,330.3 577.0,330.2 576.0,330.1 575.0,330.0 574.0,329.9 573.0,329.9 572.0,329.8 571.0,329.7 570.0,329.6 569.0,329.5 568.0,329.4 567.0,329.3 566.0,329.3 565.0,329.2 564.0,329.1 563.0,329.0 562.0,328.9 561.0,328.8 560.0,328.7 559.0,328.7 558.0,328.6 557.0,328.5 556.0,328.4 555.0,328.3 554.0,328.2 553.0,328.2 552.0,328.1 551.0,328.0 550.0,327.9 549.0,327.8 548.0,327.7 547.0,327.6 546.0,327.6 545.0,327.5 544.0,327.4 543.0,327.3 542.0,327.2 541.0,327.1 540.0,327.1 539.0,327.0 538.0,326.9 537.0,326.8 536.0,326.7 535.0,326.6 534.0,326.6 533.0,326.5 532.0,326.4 531.0,326.3 530.0,326.2 529.0,326.1 528.0,326.1 527.0,326.0 526.0,325.9 525.0,325.8 524.0,325.7 523.0,325.7 522.0,325.6 521.0,325.5 520.0,325.4 519.0,325.3 518.0,325.2 517.0,325.2 516.0,325.1 515.0,325.0 514.0,324.9 513.0,324.8 512.0,324.7 511.0,324.6 510.0,324.6 509.0,324.5 508.0,324.4 507.0,324.3 506.0,324.2 505.0,324.1 504.0,324.0 503.0,324.0 502.0,323.9 501.0,323.8 500.0,323.7 499.0,323.6 498.0,323.5 497.0,323.4 496.0,323.3 495.0,323.3 494.0,323.2 493.0,323.1 492.0,323.0 491.0,322.9 490.0,322.8 489.0,322.7 488.0,322.6 487.0,322.6 486.0,322.5 485.0,322.4 484.0,322.3 483.0,322.2 482.0,322.1 481.0,322.0 480.0,321.9 479.0,321.8 478.0,321.8 477.0,321.7 476.0,321.6 475.0,321.5 474.0,321.4 473.0,321.3 472.0,321.2 471.0,321.1 470.0,321.0 469.0,320.9 468.0,320.8 467.0,320.8 466.0,320.7 465.0,320.6 464.0,320.5 463.0,320.4 462.0,320.3 461.0,320.2 460.0,320.1 459.0,320.0 458.0,319.9 457.0,319.8 456.0,319.7 455.0,319.6 454.0,319.5 453.0,319.4 452.0,319.3 451.0,319.2 450.0,319.1 449.0,319.0 448.0,318.9 447.0,318.8 446.0,318.7 445.0,318.6 444.0,318.5 443.0,318.4 442.0,318.2 441.0,318.1 440.0,318.0 439.0,317.9 438.0,317.8 437.0,317.7 436.0,317.6 435.0,317.5 434.0,317.3 433.0,317.2 432.0,317.1 431.0,317.0 430.0,316.9 429.0,316.8 428.0,316.7 427.0,316.6 426.0,316.4 425.0,316.3 424.0,316.2 423.0,316.1 422.0,316.0 421.0,315.9 420.0,315.8 419.0,315.7 418.0,315.6 417.0,315.5 416.0,315.3 415.0,315.2 414.0,315.1 413.0,315.0 412.0,314.9 411.0,314.8 410.0,314.7 409.0,314.6 408.0,314.5 407.0,314.4 406.0,314.2 405.0,314.1 404.0,314.0 403.0,313.9 402.0,313.8 401.0,313.7 400.0,313.6 399.0,313.5 398.0,313.3 397.0,313.2 396.0,313.1 395.0,313.0 394.0,312.9 393.0,312.8 392.0,312.7 391.0,312.5 390.0,312.4 389.0,312.3 388.0,312.2 387.0,312.1 386.0,311.9 385.0,311.8 384.0,311.7 383.0,311.6 382.0,311.5 381.0,311.3 380.0,311.2 379.0,311.1 378.0,310.9 377.0,310.8 376.0,310.7 375.0,310.6 374.0,310.4 373.0,310.3 372.0,310.2 371.0,310.0 370.0,309.9 369.0,309.8 368.0,309.6 367.0,309.5 366.0,309.4 365.0,309.2 364.0,309.1 363.0,309.0 362.0,308.8 361.0,308.7 360.0,308.5 359.0,308.4 358.0,308.3 357.0,308.1 356.0,308.0 355.0,307.8 354.0,307.7 353.0,307.5 352.0,307.4 351.0,307.3 350.0,307.1 349.0,307.0 348.0,306.8 347.0,306.7 346.0,306.5 345.0,306.4 344.0,306.2 343.0,306.1 342.0,305.9 341.0,305.8 340.0,305.6 339.0,305.4 338.0,305.3 337.0,305.1 336.0,305.0 335.0,304.8 334.0,304.7 333.0,304.5 332.0,304.4 331.0,304.2 330.0,304.0 329.0,303.9 328.0,303.7 327.0,303.6 326.0,303.4 325.0,303.2 324.0,303.1 323.0,302.9 322.0,302.7 321.0,302.6 320.0,302.4 319.0,302.2 318.0,302.1 317.0,301.9 316.0,301.7 315.0,301.5 314.0,301.4 313.0,301.2 312.0,301.0 311.0,300.8 310.0,300.6 309.0,300.4 308.0,300.3 307.0,300.1 306.0,299.9 305.0,299.7 304.0,299.5 303.0,299.3 302.0,299.1 301.0,298.9 300.0,298.7 299.0,298.5 298.0,298.3 297.0,298.1 296.0,297.9 295.0,297.6 294.0,297.4 293.0,297.2 292.0,296.9 291.0,296.7 290.0,296.5 289.0,296.2 288.0,296.0 287.0,295.7 286.0,295.5 285.0,295.3 284.0,295.0 283.0,294.7 282.0,294.5 281.0,294.2 280.0,294.0 279.0,293.7 278.0,293.5 277.0,293.2 276.0,292.9 275.0,292.7 274.0,292.4 273.0,292.2 272.0,291.9 271.0,291.6 270.0,291.4 269.0,291.1 268.0,290.8 267.0,290.6 266.0,290.3 265.0,290.1 264.0,289.8 263.0,289.6 262.0,289.3 261.0,289.0 260.0,288.8 259.0,288.5 258.0,288.3 257.0,288.0 256.0,287.8 255.0,287.5 254.0,287.3 253.0,287.1 252.0,286.9 251.0,286.8 250.0,286.6 249.0,286.4 248.0,286.2 247.0,286.0 246.0,285.8 245.0,285.6 244.0,285.5 243.0,285.3 242.0,285.1 241.0,284.9 240.0,284.7 239.0,284.5 238.0,284.3 237.0,284.2 236.0,284.0 235.0,283.8 234.0,283.6 233.0,283.4 232.0,283.2 231.0,283.0 230.0,282.9 229.0,282.7 228.0,282.5 227.0,282.3 226.0,282.1 225.0,281.9 224.0,281.7 223.0,281.6 222.0,281.4 221.0,281.2 220.0,281.0 219.0,280.8 218.0,280.6 217.0,280.4 216.0,280.3 215.0,280.1 214.0,279.9 213.0,279.7 212.0,279.5 211.0,279.3 210.0,279.1 209.0,279.0 208.0,278.8 207.0,278.7 206.0,278.5 205.0,278.3 204.0,278.2 203.0,278.0 202.0,277.8 201.0,277.7 200.0,277.5 199.0,277.3 198.0,277.2 197.0,277.0 196.0,276.9 195.0,276.7 194.0,276.5 193.0,276.4 192.0,276.2 191.0,276.0 190.0,275.9 189.0,275.7 188.0,275.5 187.0,275.4 186.0,275.2 185.0,275.0 184.0,274.9 183.0,274.7 182.0,274.6 181.0,274.4 180.0,274.2 179.0,274.1 178.0,273.9 177.0,273.7 176.0,273.6 175.0,273.4 174.0,273.2 173.0,273.1 172.0,272.9 171.0,272.7 170.0,272.6 169.0,272.4 168.0,272.3 167.0,272.1 166.0,271.9 165.0,271.8 164.0,271.6 163.0,271.5 162.0,271.3 161.0,271.2 160.0,271.0 159.0,270.9 158.0,270.7 157.0,270.6 156.0,270.4 155.0,270.3 154.0,270.1 153.0,269.9 152.0,269.8 151.0,269.6 150.0,269.5 149.0,269.3 148.0,269.2 147.0,269.0 146.0,268.9 145.0,268.7 144.0,268.6 143.0,268.4 142.0,268.3 141.0,268.1 140.0,268.0 139.0,267.8 138.0,267.7 137.0,267.5 136.0,267.4 135.0,267.2 134.0,267.1 133.0,266.9 132.0,266.8 131.0,266.6 130.0,266.4 129.0,266.3 128.0,266.1 127.0,266.0 126.0,265.8 125.0,265.7 124.0,265.5 123.0,265.4 122.0,265.2 121.0,265.1 120.5,265.0" fill="#6d5fd5"/>
<polygon points="120.9,249.0 121.0,249.0 122.0,248.4 123.0,247.7 124.0,247.1 125.0,246.4 126.0,245.8 127.0,245.2 128.0,244.5 129.0,243.9 130.0,243.3 131.0,242.6 132.0,242.0 133.0,241.4 134.0,240.7 135.0,240.1 136.0,239.5 137.0,238.8 138.0,238.2 139.0,237.5 140.0,236.9 141.0,236.3 142.0,235.6 143.0,235.0 144.0,234.4 145.0,233.7 146.0,233.1 147.0,232.5 148.0,231.8 149.0,231.2 150.0,230.5 151.0,229.9 152.0,229.3 153.0,228.6 154.0,228.0 155.0,227.4 156.0,226.7 157.0,226.1 158.0,225.5 159.0,224.8 160.0,224.2 161.0,223.6 162.0,222.9 163.0,222.3 164.0,221.6 165.0,221.0 166.0,220.4 167.0,219.7 168.0,219.1 169.0,218.5 170.0,217.8 171.0,217.2 172.0,216.6 173.0,215.9 174.0,215.3 175.0,214.7 176.0,214.0 177.0,213.4 178.0,212.7 179.0,212.1 180.0,211.5 181.0,210.8 182.0,210.2 183.0,209.6 184.0,208.9 185.0,208.3 186.0,207.7 187.0,207.0 188.0,206.4 189.0,205.8 190.0,205.1 191.0,204.5 192.0,203.8 193.0,203.2 194.0,202.6 195.0,201.9 196.0,201.3 197.0,200.7 198.0,200.0 199.0,199.4 200.0,198.8 201.0,198.1 202.0,197.5 203.0,196.9 204.0,196.2 205.0,195.6 206.0,194.9 207.0,194.3 208.0,193.7 209.0,193.0 210.0,192.4 211.0,191.8 212.0,191.1 213.0,190.5 214.0,189.9 215.0,189.2 216.0,188.6 217.0,188.0 218.0,187.3 219.0,186.7 220.0,186.0 221.0,185.4 222.0,184.8 223.0,184.1 224.0,183.5 225.0,182.9 226.0,182.2 227.0,181.6 228.0,181.0 229.0,180.3 230.0,179.7 231.0,179.1 232.0,178.4 233.0,177.8 234.0,177.1 235.0,176.5 236.0,175.9 237.0,175.2 238.0,174.6 239.0,174.0 240.0,173.3 241.0,172.7 242.0,172.1 243.0,171.4 244.0,170.8 245.0,170.2 246.0,169.5 247.0,168.9 248.0,168.2 249.0,167.6 250.0,167.0 251.0,166.3 252.0,165.7 253.0,165.1 254.0,164.4 255.0,164.1 256.0,164.1 257.0,164.1 258.0,164.1 259.0,164.1 260.0,164.1 261.0,164.1 262.0,164.1 263.0,164.1 264.0,164.1 265.0,164.1 266.0,164.2 267.0,164.2 268.0,164.2 269.0,164.2 270.0,164.2 271.0,164.2 272.0,164.2 273.0,164.3 274.0,164.3 275.0,164.3 276.0,164.3 277.0,164.4 278.0,164.4 279.0,164.4 280.0,164.5 281.0,164.5 282.0,164.5 283.0,164.5 284.0,164.6 285.0,164.6 286.0,164.6 287.0,164.7 288.0,164.7 289.0,164.7 290.0,164.8 291.0,164.8 292.0,164.8 293.0,164.9 294.0,164.9 295.0,164.9 296.0,164.9 297.0,165.0 298.0,165.0 299.0,165.0 300.0,165.1 301.0,165.1 302.0,165.1 303.0,165.2 304.0,165.2 305.0,165.2 306.0,165.3 307.0,165.3 308.0,165.3 309.0,165.4 310.0,165.4 311.0,165.4 312.0,165.5 313.0,165.5 314.0,165.5 315.0,165.6 316.0,165.6 317.0,165.7 318.0,165.7 319.0,165.7 320.0,165.8 321.0,165.8 322.0,165.8 323.0,165.9 324.0,165.9 325.0,165.9 326.0,166.0 327.0,166.0 328.0,166.1 329.0,166.1 330.0,166.1 331.0,166.2 332.0,166.2 333.0,166.2 334.0,166.3 335.0,166.3 336.0,166.4 337.0,166.4 338.0,166.4 339.0,166.5 340.0,166.5 341.0,166.5 342.0,166.6 343.0,166.6 344.0,166.7 345.0,166.8 346.0,166.9 347.0,166.9 348.0,167.0 349.0,167.0 350.0,166.9 351.0,167.0 352.0,167.2 353.0,167.1 354.0,167.2 355.0,167.3 356.0,167.2 357.0,167.1 358.0,167.3 359.0,167.4 360.0,167.3 361.0,167.5 362.0,167.5 363.0,167.6 364.0,167.6 365.0,167.6 366.0,167.6 367.0,167.5 368.0,167.5 369.0,167.7 370.0,167.6 371.0,167.7 372.0,167.9 373.0,168.0 374.0,168.0 375.0,168.0 376.0,168.0 377.0,168.1 378.0,168.3 379.0,168.5 380.0,168.5 381.0,168.5 382.0,168.6 383.0,168.7 384.0,168.7 385.0,168.5 386.0,168.6 387.0,168.6 388.0,168.6 389.0,168.5 390.0,168.6 391.0,168.7 392.0,168.9 393.0,169.0 394.0,168.9 395.0,168.9 396.0,168.9 397.0,168.9 398.0,169.1 399.0,169.3 400.0,169.4 401.0,169.5 402.0,169.6 403.0,169.7 404.0,169.8 405.0,169.6 406.0,169.4 407.0,169.4 408.0,169.5 409.0,169.6 410.0,169.6 411.0,169.7 412.0,169.7 413.0,169.8 414.0,169.8 415.0,169.9 416.0,169.8 417.0,170.0 418.0,170.0 419.0,170.0 420.0,170.0 421.0,170.0 422.0,170.0 423.0,169.9 424.0,170.1 425.0,170.2 426.0,170.3 427.0,170.2 428.0,170.2 429.0,170.4 430.0,170.5 431.0,170.5 432.0,170.7 433.0,170.8 434.0,171.0 435.0,170.9 436.0,171.1 437.0,171.0 438.0,171.1 439.0,171.2 440.0,171.1 441.0,171.0 442.0,170.9 443.0,171.2 444.0,171.4 445.0,171.6 446.0,171.7 447.0,171.6 448.0,171.8 449.0,171.7 450.0,171.6 451.0,171.6 452.0,171.8 453.0,171.9 454.0,172.0 455.0,172.2 456.0,172.1 457.0,172.2 458.0,172.1 459.0,172.2 460.0,172.3 461.0,172.3 462.0,172.4 463.0,172.4 464.0,172.5 465.0,172.4 466.0,172.5 467.0,172.6 468.0,172.8 469.0,172.7 470.0,172.6 471.0,172.8 472.0,172.8 473.0,172.7 474.0,172.7 475.0,172.6 476.0,172.7 477.0,172.7 478.0,172.7 479.0,172.8 480.0,173.0 481.0,173.0 482.0,173.0 483.0,173.2 484.0,173.1 485.0,173.1 486.0,173.0 487.0,173.1 488.0,173.3 489.0,173.4 490.0,173.5 491.0,173.5 492.0,173.7 493.0,173.8 494.0,173.9 495.0,174.0 496.0,173.9 497.0,173.8 498.0,174.0 499.0,174.1 500.0,174.0 501.0,174.2 502.0,174.2 503.0,174.1 504.0,174.4 505.0,174.5 506.0,174.5 507.0,174.5 508.0,174.7 509.0,174.8 510.0,174.9 511.0,175.0 512.0,174.9 513.0,174.8 514.0,174.9 515.0,174.9 516.0,174.7 517.0,174.7 518.0,174.8 519.0,174.9 520.0,174.8 521.0,174.9 522.0,174.9 523.0,175.0 524.0,175.3 525.0,175.3 526.0,175.2 527.0,175.3 528.0,175.3 529.0,175.3 530.0,175.5 531.0,175.5 532.0,175.7 533.0,175.6 534.0,175.6 535.0,175.5 536.0,175.7 537.0,176.0 538.0,176.1 539.0,176.0 540.0,176.0 541.0,175.9 542.0,175.8 543.0,175.9 544.0,176.0 545.0,175.9 546.0,176.1 547.0,176.3 548.0,176.3 549.0,176.5 550.0,176.5 551.0,176.6 552.0,176.5 553.0,176.6 554.0,176.8 555.0,176.9 556.0,177.0 557.0,177.0 558.0,176.9 559.0,177.0 560.0,177.0 561.0,177.0 562.0,177.2 563.0,177.4 564.0,177.3 565.0,177.3 566.0,177.4 567.0,177.5 568.0,177.5 569.0,177.5 570.0,177.6 571.0,177.5 572.0,177.5 573.0,177.7 574.0,177.8 575.0,177.9 576.0,177.9 577.0,177.8 578.0,178.0 579.0,177.9 580.0,177.9 581.0,177.9 582.0,177.8 583.0,177.8 584.0,177.9 585.0,178.1 586.0,178.3 587.0,178.2 588.0,178.1 589.0,178.2 590.0,178.3 591.0,178.2 592.0,178.2 593.0,178.2 594.0,178.3 595.0,178.3 596.0,178.5 597.0,178.4 598.0,178.6 599.0,178.8 600.0,178.8 601.0,178.8 602.0,178.7 603.0,178.6 604.0,178.7 605.0,178.6 606.0,178.8 607.0,179.1 608.0,179.0 609.0,179.0 610.0,179.0 611.0,179.0 612.0,179.1 613.0,179.1 614.0,179.1 615.0,179.3 616.0,179.3 617.0,179.4 618.0,179.6 619.0,179.4 620.0,179.3 621.0,179.5 622.0,179.6 623.0,179.4 624.0,179.6 625.0,179.6 626.0,179.7 627.0,179.7 628.0,179.6 629.0,179.5 630.0,179.5 631.0,179.5 632.0,179.7 633.0,179.9 634.0,179.8 635.0,179.7 636.0,179.7 637.0,179.7 638.0,179.7 639.0,179.7 640.0,179.8 641.0,180.0 642.0,180.0 643.0,179.8 644.0,180.0 645.0,179.9 646.0,179.9 647.0,179.9 648.0,180.0 649.0,180.0 650.0,180.1 651.0,180.1 652.0,180.1 653.0,180.2 654.0,180.2 655.0,180.2 656.0,180.3 657.0,180.1 658.0,180.1 659.0,180.2 660.0,180.3 661.0,180.4 662.0,180.6 663.0,180.6 664.0,180.7 665.0,180.7 666.0,180.6 667.0,180.7 668.0,180.5 669.0,180.5 670.0,180.7 671.0,180.6 672.0,180.6 673.0,180.7 674.0,180.7 675.0,180.9 676.0,180.7 677.0,180.9 678.0,180.7 679.0,180.7 680.0,180.9 681.0,180.9 682.0,180.9 683.0,180.8 684.0,180.7 685.0,180.7 686.0,180.8 687.0,180.7 688.0,180.8 689.0,180.9 690.0,181.1 691.0,181.2 692.0,181.1 693.0,181.0 694.0,181.1 695.0,181.3 696.0,181.4 697.0,181.3 698.0,181.3 699.0,181.2 700.0,181.2 701.0,181.4 702.0,181.6 703.0,181.4 704.0,181.3 705.0,181.3 706.0,181.5 707.0,181.5 708.0,181.4 709.0,181.4 710.0,181.4 711.0,181.4 712.0,181.5 713.0,181.6 714.0,181.7 715.0,181.6 716.0,181.6 717.0,181.7 718.0,181.7 719.0,181.9 720.0,181.9 721.0,181.8 722.0,181.9 723.0,182.0 724.0,182.0 725.0,182.0 726.0,182.1 727.0,182.2 728.0,182.0 729.0,182.2 730.0,182.2 731.0,182.2 732.0,182.2 733.0,182.1 734.0,182.2 735.0,182.2 736.0,182.3 737.0,182.5 738.0,182.5 739.0,182.3 740.0,182.4 741.0,182.4 742.0,182.3 743.0,182.4 744.0,182.3 745.0,182.3 746.0,182.2 747.0,182.2 748.0,182.3 749.0,182.2 750.0,182.2 751.0,182.2 752.0,182.3 753.0,182.5 754.0,182.6 755.0,182.5 756.0,182.7 757.0,182.9 758.0,182.9 759.0,183.0 760.0,183.0 761.0,182.9 762.0,183.0 763.0,183.1 764.0,182.9 765.0,183.0 766.0,183.0 767.0,182.9 768.0,182.8 769.0,182.8 770.0,182.8 770.0,187.1 769.0,186.9 768.0,187.0 767.0,186.9 766.0,186.9 765.0,186.7 764.0,186.8 763.0,186.7 762.0,186.5 761.0,186.3 760.0,186.4 759.0,186.3 758.0,186.3 757.0,186.3 756.0,186.2 755.0,186.3 754.0,186.3 753.0,186.4 752.0,186.4 751.0,186.2 750.0,186.3 749.0,186.2 748.0,186.2 747.0,186.3 746.0,186.3 745.0,186.3 744.0,186.3 743.0,186.2 742.0,186.3 741.0,186.2 740.0,186.2 739.0,186.2 738.0,186.2 737.0,186.3 736.0,186.1 735.0,186.1 734.0,186.0 733.0,186.0 732.0,186.1 731.0,186.0 730.0,186.0 729.0,185.9 728.0,185.9 727.0,185.9 726.0,185.8 725.0,185.9 724.0,186.1 723.0,185.9 722.0,185.7 721.0,185.8 720.0,185.7 719.0,185.6 718.0,185.5 717.0,185.6 716.0,185.5 715.0,185.5 714.0,185.3 713.0,185.2 712.0,185.2 711.0,185.3 710.0,185.2 709.0,185.3 708.0,185.2 707.0,185.2 706.0,185.2 705.0,185.3 704.0,185.1 703.0,185.1 702.0,185.2 701.0,185.2 700.0,185.3 699.0,185.2 698.0,185.0 697.0,185.1 696.0,185.3 695.0,185.2 694.0,185.0 693.0,185.1 692.0,185.1 691.0,184.9 690.0,185.0 689.0,184.9 688.0,185.0 687.0,184.9 686.0,185.0 685.0,185.0 684.0,184.8 683.0,184.8 682.0,184.8 681.0,184.7 680.0,184.7 679.0,184.5 678.0,184.5 677.0,184.7 676.0,184.5 675.0,184.4 674.0,184.3 673.0,184.4 672.0,184.2 671.0,184.1 670.0,184.1 669.0,184.1 668.0,184.2 667.0,184.3 666.0,184.3 665.0,184.4 664.0,184.2 663.0,184.2 662.0,184.3 661.0,184.3 660.0,184.2 659.0,184.1 658.0,183.8 657.0,183.9 656.0,183.9 655.0,184.0 654.0,184.0 653.0,184.2 652.0,184.0 651.0,184.1 650.0,184.1 649.0,184.2 648.0,184.1 647.0,184.0 646.0,184.2 645.0,184.1 644.0,184.0 643.0,183.9 642.0,183.9 641.0,183.9 640.0,184.0 639.0,183.9 638.0,183.9 637.0,183.8 636.0,183.7 635.0,183.7 634.0,183.8 633.0,183.7 632.0,183.6 631.0,183.4 630.0,183.3 629.0,183.4 628.0,183.3 627.0,183.3 626.0,183.2 625.0,183.4 624.0,183.4 623.0,183.2 622.0,182.9 621.0,183.0 620.0,183.0 619.0,183.1 618.0,183.2 617.0,183.0 616.0,183.1 615.0,182.9 614.0,183.0 613.0,183.0 612.0,183.0 611.0,182.9 610.0,182.8 609.0,183.0 608.0,182.9 607.0,182.7 606.0,182.8 605.0,182.5 604.0,182.6 603.0,182.4 602.0,182.5 601.0,182.6 600.0,182.3 599.0,182.4 598.0,182.3 597.0,182.4 596.0,182.3 595.0,182.4 594.0,182.5 593.0,182.5 592.0,182.3 591.0,182.1 590.0,181.9 589.0,182.0 588.0,182.0 587.0,182.1 586.0,181.8 585.0,182.0 584.0,181.9 583.0,181.7 582.0,181.8 581.0,181.9 580.0,181.6 579.0,181.7 578.0,181.8 577.0,181.6 576.0,181.6 575.0,181.4 574.0,181.5 573.0,181.6 572.0,181.5 571.0,181.4 570.0,181.4 569.0,181.1 568.0,181.2 567.0,181.1 566.0,181.3 565.0,181.1 564.0,180.9 563.0,180.8 562.0,180.9 561.0,180.9 560.0,180.9 559.0,180.9 558.0,180.7 557.0,180.8 556.0,180.7 555.0,180.7 554.0,180.5 553.0,180.5 552.0,180.2 551.0,180.4 550.0,180.4 549.0,180.3 548.0,180.1 547.0,180.2 546.0,180.1 545.0,179.9 544.0,179.9 543.0,179.9 542.0,179.7 541.0,179.6 540.0,179.5 539.0,179.4 538.0,179.5 537.0,179.6 536.0,179.4 535.0,179.3 534.0,179.3 533.0,179.3 532.0,179.2 531.0,179.4 530.0,179.5 529.0,179.3 528.0,179.3 527.0,179.2 526.0,179.1 525.0,179.1 524.0,179.2 523.0,179.1 522.0,178.8 521.0,178.7 520.0,178.8 519.0,178.8 518.0,178.8 517.0,178.7 516.0,178.7 515.0,178.6 514.0,178.5 513.0,178.6 512.0,178.7 511.0,178.6 510.0,178.4 509.0,178.4 508.0,178.5 507.0,178.3 506.0,178.3 505.0,178.2 504.0,177.9 503.0,177.7 502.0,177.7 501.0,177.8 500.0,177.8 499.0,177.8 498.0,177.7 497.0,177.6 496.0,177.5 495.0,177.4 494.0,177.5 493.0,177.5 492.0,177.5 491.0,177.5 490.0,177.6 489.0,177.6 488.0,177.4 487.0,177.4 486.0,177.3 485.0,177.2 484.0,177.1 483.0,176.8 482.0,176.8 481.0,176.9 480.0,177.0 479.0,176.9 478.0,176.8 477.0,176.7 476.0,176.4 475.0,176.5 474.0,176.3 473.0,176.4 472.0,176.2 471.0,176.3 470.0,176.4 469.0,176.4 468.0,176.4 467.0,176.3 466.0,176.3 465.0,176.1 464.0,175.8 463.0,175.9 462.0,175.7 461.0,175.7 460.0,175.8 459.0,175.8 458.0,175.6 457.0,175.7 456.0,175.6 455.0,175.6 454.0,175.6 453.0,175.6 452.0,175.4 451.0,175.5 450.0,175.3 449.0,175.3 448.0,175.1 447.0,175.2 446.0,175.0 445.0,175.2 444.0,174.9 443.0,174.8 442.0,174.8 441.0,174.6 440.0,174.6 439.0,174.7 438.0,174.8 437.0,174.5 436.0,174.6 435.0,174.4 434.0,174.4 433.0,174.3 432.0,174.2 431.0,174.1 430.0,174.2 429.0,174.1 428.0,174.1 427.0,174.2 426.0,173.9 425.0,173.8 424.0,173.8 423.0,173.7 422.0,173.8 421.0,173.6 420.0,173.6 419.0,173.6 418.0,173.6 417.0,173.6 416.0,173.6 415.0,173.7 414.0,173.7 413.0,173.7 412.0,173.7 411.0,173.5 410.0,173.5 409.0,173.4 408.0,173.3 407.0,173.2 406.0,173.1 405.0,173.1 404.0,173.3 403.0,173.2 402.0,173.3 401.0,173.1 400.0,173.1 399.0,173.0 398.0,172.9 397.0,173.0 396.0,172.8 395.0,172.6 394.0,172.7 393.0,172.7 392.0,172.6 391.0,172.7 390.0,172.5 389.0,172.5 388.0,172.5 387.0,172.5 386.0,172.5 385.0,172.5 384.0,172.3 383.0,172.2 382.0,172.2 381.0,172.2 380.0,172.0 379.0,171.9 378.0,171.9 377.0,171.6 376.0,171.7 375.0,171.7 374.0,171.6 373.0,171.7 372.0,171.8 371.0,171.6 370.0,171.5 369.0,171.5 368.0,171.4 367.0,171.4 366.0,171.5 365.0,171.3 364.0,171.1 363.0,171.0 362.0,171.0 361.0,171.0 360.0,171.1 359.0,171.1 358.0,171.1 357.0,171.0 356.0,170.8 355.0,170.9 354.0,170.9 353.0,170.8 352.0,170.7 351.0,170.7 350.0,170.8 349.0,170.7 348.0,170.6 347.0,170.6 346.0,170.5 345.0,170.5 344.0,170.5 343.0,170.4 342.0,170.4 341.0,170.3 340.0,170.3 339.0,170.3 338.0,170.2 337.0,170.2 336.0,170.2 335.0,170.1 334.0,170.1 333.0,170.0 332.0,170.0 331.0,170.0 330.0,169.9 329.0,169.9 328.0,169.9 327.0,169.8 326.0,169.8 325.0,169.7 324.0,169.7 323.0,169.7 322.0,169.6 321.0,169.6 320.0,169.6 319.0,169.5 318.0,169.5 317.0,169.5 316.0,169.4 315.0,169.4 314.0,169.3 313.0,169.3 312.0,169.3 311.0,169.2 310.0,169.2 309.0,169.2 308.0,169.1 307.0,169.1 306.0,169.1 305.0,169.0 304.0,169.0 303.0,169.0 302.0,168.9 301.0,168.9 300.0,168.9 299.0,168.8 298.0,168.8 297.0,168.8 296.0,168.7 295.0,168.7 294.0,168.7 293.0,168.7 292.0,168.6 291.0,168.6 290.0,168.6 289.0,168.5 288.0,168.5 287.0,168.5 286.0,168.4 285.0,168.4 284.0,168.4 283.0,168.3 282.0,168.3 281.0,168.3 280.0,168.3 279.0,168.2 278.0,168.2 277.0,168.2 276.0,168.1 275.0,168.1 274.0,168.1 273.0,168.1 272.0,168.0 271.0,168.0 270.0,168.0 269.0,168.0 268.0,168.0 267.0,168.0 266.0,168.0 265.0,167.9 264.0,167.9 263.0,167.9 262.0,167.9 261.0,167.9 260.0,167.9 259.0,167.9 258.0,167.9 257.0,167.9 256.0,167.9 255.0,168.2 254.0,168.7 253.0,169.4 252.0,170.0 251.0,170.6 250.0,171.3 249.0,171.9 248.0,172.5 247.0,173.2 246.0,173.8 245.0,174.5 244.0,175.1 243.0,175.7 242.0,176.4 241.0,177.0 240.0,177.6 239.0,178.3 238.0,178.9 237.0,179.5 236.0,180.2 235.0,180.8 234.0,181.4 233.0,182.1 232.0,182.7 231.0,183.4 230.0,184.0 229.0,184.6 228.0,185.3 227.0,185.9 226.0,186.5 225.0,187.2 224.0,187.8 223.0,188.4 222.0,189.1 221.0,189.7 220.0,190.3 219.0,191.0 218.0,191.6 217.0,192.3 216.0,192.9 215.0,193.5 214.0,194.2 213.0,194.8 212.0,195.4 211.0,196.1 210.0,196.7 209.0,197.3 208.0,198.0 207.0,198.6 206.0,199.2 205.0,199.9 204.0,200.5 203.0,201.2 202.0,201.8 201.0,202.4 200.0,203.1 199.0,203.7 198.0,204.3 197.0,205.0 196.0,205.6 195.0,206.2 194.0,206.9 193.0,207.5 192.0,208.1 191.0,208.8 190.0,209.4 189.0,210.1 188.0,210.7 187.0,211.3 186.0,212.0 185.0,212.6 184.0,213.2 183.0,213.9 182.0,214.5 181.0,215.1 180.0,215.8 179.0,216.4 178.0,217.0 177.0,217.7 176.0,218.3 175.0,219.0 174.0,219.6 173.0,220.2 172.0,220.9 171.0,221.5 170.0,222.1 169.0,222.8 168.0,223.4 167.0,224.0 166.0,224.7 165.0,225.3 164.0,225.9 163.0,226.6 162.0,227.2 161.0,227.9 160.0,228.5 159.0,229.1 158.0,229.8 157.0,230.4 156.0,231.0 155.0,231.7 154.0,232.3 153.0,232.9 152.0,233.6 151.0,234.2 150.0,234.8 149.0,235.5 148.0,236.1 147.0,236.8 146.0,237.4 145.0,238.0 144.0,238.7 143.0,239.3 142.0,239.9 141.0,240.6 140.0,241.2 139.0,241.8 138.0,242.5 137.0,243.1 136.0,243.8 135.0,244.4 134.0,245.0 133.0,245.7 132.0,246.3 131.0,246.9 130.0,247.6 129.0,248.2 128.0,248.8 127.0,249.5 126.0,250.1 125.0,250.7 124.0,251.4 123.0,252.0 122.0,252.7 121.0,253.3 120.9,253.3" fill="#bf593e"/>
<polygon points="120.5,255 258,255 258,256 326,256 326,257 540,257 540,258 120.5,258" fill="#209fdf"/>
<rect x="120.5" y="261" width="649.5" height="3" fill="#99ca53"/>
<polygon points="93,262 93.5,262.5 98,266.1 102.7,267.1 107.7,268.1 112.6,268.4 117.5,268.6 120.5,267.8 120.5,262" fill="#f6a625"/>
<path d="M121 258h79v1h-79z" fill="#c9c4ee"/>
<polygon points="93.0,247.4 98.0,249.1 103.0,250.1 108.0,250.7 113.0,250.9 120.5,250.8 120.5,259.0 200.0,259.0 200.0,258.0 770.0,258.0 770.0,262.8 769.0,262.9 768.0,263.2 767.0,263.0 766.0,263.0 765.0,263.0 764.0,262.7 763.0,262.8 762.0,262.9 761.0,263.1 760.0,262.7 759.0,262.6 758.0,262.4 757.0,262.8 756.0,263.0 755.0,262.6 754.0,263.0 753.0,263.3 752.0,263.2 751.0,263.2 750.0,262.8 749.0,262.5 748.0,262.6 747.0,262.4 746.0,262.4 745.0,262.4 744.0,262.2 743.0,262.4 742.0,262.6 741.0,262.9 740.0,262.9 739.0,263.0 738.0,262.9 737.0,263.0 736.0,262.9 735.0,262.7 734.0,263.1 733.0,263.4 732.0,263.4 731.0,263.3 730.0,263.0 729.0,262.8 728.0,262.6 727.0,262.4 726.0,262.8 725.0,262.7 724.0,263.0 723.0,262.9 722.0,263.2 721.0,263.3 720.0,262.8 719.0,262.6 718.0,263.0 717.0,262.9 716.0,263.2 715.0,263.0 714.0,262.6 713.0,262.8 712.0,263.0 711.0,262.8 710.0,262.5 709.0,262.5 708.0,263.0 707.0,263.1 706.0,262.7 705.0,262.6 704.0,262.4 703.0,262.3 702.0,262.7 701.0,262.5 700.0,262.7 699.0,262.7 698.0,262.6 697.0,262.8 696.0,262.6 695.0,262.8 694.0,262.5 693.0,262.6 692.0,262.5 691.0,262.5 690.0,263.0 689.0,263.1 688.0,262.9 687.0,263.1 686.0,262.8 685.0,262.8 684.0,263.0 683.0,263.1 682.0,262.7 681.0,263.1 680.0,262.8 679.0,262.6 678.0,262.9 677.0,262.8 676.0,262.7 675.0,262.4 674.0,262.3 673.0,262.6 672.0,262.5 671.0,262.7 670.0,262.7 669.0,262.7 668.0,263.1 667.0,263.0 666.0,263.0 665.0,263.2 664.0,262.8 663.0,262.6 662.0,263.0 661.0,263.2 660.0,262.9 659.0,262.6 658.0,262.9 657.0,263.2 656.0,262.8 655.0,263.2 654.0,263.3 653.0,263.2 652.0,263.0 651.0,262.7 650.0,262.4 649.0,262.9 648.0,262.7 647.0,262.9 646.0,262.7 645.0,263.0 644.0,263.0 643.0,262.8 642.0,262.6 641.0,262.8 640.0,262.5 639.0,262.5 638.0,262.7 637.0,263.0 636.0,263.0 635.0,262.8 634.0,263.1 633.0,262.8 632.0,262.5 631.0,262.5 630.0,262.6 629.0,262.4 628.0,262.3 627.0,262.4 626.0,262.7 625.0,262.5 624.0,262.5 623.0,262.9 622.0,263.2 621.0,263.2 620.0,263.2 619.0,263.1 618.0,262.8 617.0,262.5 616.0,262.3 615.0,262.8 614.0,263.0 613.0,263.3 612.0,262.7 611.0,262.9 610.0,262.9 609.0,263.0 608.0,262.8 607.0,263.2 606.0,262.7 605.0,262.8 604.0,263.0 603.0,263.2 602.0,263.2 601.0,263.2 600.0,263.3 599.0,263.4 598.0,263.1 597.0,263.1 596.0,263.3 595.0,263.4 594.0,263.1 593.0,263.2 592.0,263.3 591.0,263.2 590.0,263.1 589.0,262.9 588.0,263.0 587.0,263.0 586.0,262.6 585.0,262.8 584.0,263.2 583.0,263.3 582.0,263.3 581.0,263.0 580.0,263.1 579.0,263.1 578.0,262.9 577.0,263.2 576.0,262.7 575.0,263.0 574.0,262.6 573.0,262.8 572.0,262.8 571.0,262.6 570.0,262.9 569.0,262.8 568.0,262.9 567.0,263.2 566.0,262.9 565.0,262.5 564.0,262.5 563.0,262.8 562.0,262.6 561.0,262.5 560.0,262.9 559.0,263.0 558.0,262.9 557.0,263.2 556.0,262.9 555.0,263.0 554.0,262.7 553.0,262.7 552.0,263.0 551.0,263.2 550.0,263.4 549.0,263.1 548.0,263.0 547.0,262.8 546.0,262.6 545.0,262.7 544.0,263.0 543.0,263.2 542.0,263.2 541.0,263.4 540.0,263.0 539.0,262.7 538.0,262.7 537.0,262.6 536.0,262.5 535.0,262.6 534.0,262.8 533.0,262.8 532.0,262.7 531.0,263.0 530.0,263.3 529.0,263.1 528.0,262.7 527.0,262.4 526.0,262.8 525.0,262.5 524.0,262.8 523.0,262.8 522.0,262.7 521.0,262.9 520.0,262.5 519.0,262.4 518.0,262.5 517.0,262.3 516.0,262.7 515.0,262.6 514.0,262.4 513.0,262.2 512.0,262.6 511.0,262.6 510.0,262.8 509.0,262.9 508.0,263.1 507.0,263.3 506.0,263.2 505.0,262.8 504.0,262.8 503.0,262.6 502.0,262.3 501.0,262.5 500.0,262.7 499.0,262.5 498.0,262.5 497.0,262.5 496.0,262.7 495.0,262.8 494.0,262.8 493.0,263.0 492.0,262.8 491.0,263.0 490.0,263.2 489.0,262.7 488.0,263.0 487.0,263.1 486.0,262.7 485.0,262.7 484.0,262.8 483.0,263.1 482.0,262.8 481.0,262.9 480.0,263.1 479.0,263.2 478.0,263.3 477.0,263.0 476.0,263.0 475.0,262.7 474.0,262.9 473.0,263.0 472.0,263.0 471.0,263.0 470.0,262.7 469.0,263.0 468.0,263.2 467.0,263.4 466.0,263.1 465.0,263.2 464.0,262.9 463.0,263.1 462.0,263.2 461.0,262.9 460.0,262.5 459.0,262.5 458.0,262.6 457.0,262.9 456.0,262.8 455.0,262.4 454.0,262.7 453.0,262.4 452.0,262.7 451.0,262.5 450.0,262.4 449.0,262.7 448.0,262.5 447.0,262.3 446.0,262.5 445.0,262.7 444.0,262.9 443.0,263.0 442.0,263.2 441.0,263.0 440.0,263.2 439.0,262.7 438.0,262.5 437.0,262.6 436.0,262.4 435.0,262.7 434.0,262.8 433.0,262.7 432.0,262.9 431.0,262.9 430.0,262.6 429.0,262.6 428.0,262.8 427.0,263.0 426.0,262.7 425.0,262.9 424.0,263.1 423.0,262.9 422.0,262.9 421.0,262.6 420.0,262.6 419.0,262.6 418.0,262.7 417.0,262.3 416.0,262.8 415.0,262.7 414.0,262.6 413.0,262.8 412.0,262.8 411.0,262.7 410.0,262.8 409.0,262.4 408.0,262.5 407.0,262.5 406.0,262.9 405.0,263.1 404.0,262.7 403.0,262.6 402.0,262.3 401.0,262.4 400.0,262.7 399.0,262.9 398.0,262.8 397.0,262.6 396.0,262.3 395.0,262.5 394.0,262.8 393.0,262.5 392.0,262.7 391.0,262.3 390.0,262.2 389.0,262.1 388.0,262.4 387.0,262.4 386.0,262.3 385.0,262.5 384.0,262.2 383.0,262.5 382.0,262.3 381.0,262.4 380.0,262.3 379.0,262.2 378.0,262.3 377.0,262.4 376.0,262.3 375.0,262.4 374.0,262.4 373.0,262.2 372.0,262.1 371.0,262.4 370.0,262.5 369.0,262.6 368.0,262.8 367.0,262.8 366.0,262.9 365.0,262.6 364.0,262.7 363.0,262.9 362.0,263.0 361.0,262.7 360.0,262.5 359.0,262.8 358.0,262.5 357.0,262.8 356.0,263.0 355.0,262.5 354.0,262.3 353.0,262.6 352.0,262.4 351.0,262.1 350.0,262.5 349.0,262.4 348.0,262.7 347.0,262.3 346.0,262.3 345.0,262.5 344.0,262.1 343.0,262.1 342.0,262.4 341.0,262.7 340.0,262.9 339.0,262.5 338.0,262.5 337.0,262.7 336.0,262.6 335.0,262.7 334.0,262.4 333.0,262.1 332.0,261.9 331.0,261.8 330.0,262.1 329.0,262.3 328.0,262.4 327.0,262.2 326.0,262.0 325.0,262.0 324.0,262.4 323.0,262.8 322.0,263.0 321.0,262.5 320.0,262.1 319.0,262.6 318.0,262.5 317.0,262.7 316.0,262.5 315.0,262.4 314.0,262.5 313.0,262.4 312.0,262.5 311.0,262.1 310.0,262.4 309.0,262.7 308.0,262.4 307.0,262.4 306.0,262.6 305.0,262.5 304.0,262.2 303.0,262.1 302.0,262.2 301.0,262.0 300.0,262.4 299.0,262.7 298.0,262.7 297.0,262.9 296.0,262.8 295.0,262.6 294.0,262.6 293.0,262.5 292.0,262.9 291.0,262.9 290.0,262.6 289.0,262.8 288.0,262.8 287.0,262.9 286.0,262.9 285.0,262.7 284.0,262.9 283.0,263.0 282.0,262.9 281.0,262.9 280.0,262.9 279.0,262.7 278.0,262.7 277.0,262.3 276.0,262.3 275.0,262.3 274.0,262.0 273.0,262.1 272.0,262.3 271.0,262.5 270.0,262.3 269.0,262.7 268.0,262.7 267.0,262.5 266.0,262.6 265.0,262.6 264.0,262.6 263.0,262.4 262.0,262.8 261.0,262.8 260.0,262.8 259.0,262.8 258.0,263.0 257.0,262.5 256.0,262.5 255.0,262.7 254.0,262.4 253.0,262.4 252.0,262.1 251.0,262.0 250.0,262.1 249.0,261.9 248.0,262.0 247.0,262.5 246.0,262.5 245.0,262.5 244.0,262.8 243.0,262.7 242.0,263.0 241.0,262.9 240.0,262.9 239.0,262.4 238.0,262.5 237.0,262.7 236.0,262.3 235.0,262.6 234.0,262.3 233.0,262.4 232.0,262.2 231.0,262.3 230.0,262.4 229.0,262.1 228.0,262.6 227.0,262.5 226.0,262.5 225.0,262.5 224.0,262.4 223.0,262.3 222.0,262.5 221.0,262.5 220.0,262.3 219.0,262.5 218.0,262.4 217.0,262.0 216.0,262.0 215.0,261.9 214.0,261.9 213.0,262.3 212.0,262.3 211.0,262.6 210.0,262.7 209.0,262.3 208.0,262.7 207.0,262.9 206.0,262.4 205.0,262.7 204.0,262.6 203.0,262.5 202.0,262.8 201.0,262.5 200.0,262.5 199.0,262.8 198.0,262.8 197.0,262.6 196.0,262.9 195.0,263.0 194.0,262.8 193.0,262.4 192.0,262.5 191.0,262.5 190.0,262.2 189.0,262.0 188.0,262.2 187.0,262.0 186.0,262.2 185.0,262.4 184.0,262.4 183.0,262.2 182.0,262.4 181.0,262.4 180.0,262.0 179.0,262.0 178.0,262.0 177.0,262.0 176.0,262.0 175.0,262.0 174.0,262.0 173.0,262.0 172.0,262.0 171.0,262.0 170.0,262.0 169.0,262.0 168.0,262.0 167.0,262.0 166.0,262.0 165.0,262.0 164.0,262.0 163.0,262.0 162.0,262.0 161.0,262.0 160.0,262.0 159.0,262.0 158.0,262.0 157.0,262.0 156.0,262.0 155.0,262.0 154.0,262.0 153.0,262.0 152.0,262.0 151.0,262.0 150.0,262.0 149.0,262.0 148.0,262.0 147.0,262.0 146.0,262.0 145.0,262.0 144.0,262.0 143.0,262.0 142.0,262.0 141.0,262.0 140.0,262.0 139.0,262.0 138.0,262.0 137.0,262.0 136.0,262.0 135.0,262.0 134.0,262.0 133.0,262.0 132.0,262.0 131.0,262.0 130.0,262.0 129.0,262.0 128.0,262.0 127.0,262.0 126.0,262.0 125.0,262.0 124.0,262.0 123.0,262.0 122.0,262.0 120.5,262.0 93.0,262.0" fill="#6d5fd5"/>
<path d="M121 258h2v1h-2zM124 258h3v1h-3zM128 258h1v1h-1zM130 258h2v1h-2zM133 258h4v1h-4zM138 258h1v1h-1zM140 258h3v1h-3zM146 258h1v1h-1zM148 258h1v1h-1zM152 258h1v1h-1zM154 258h2v1h-2zM157 258h4v1h-4zM164 258h1v1h-1zM166 258h1v1h-1zM168 258h2v1h-2zM173 258h2v1h-2zM176 258h4v1h-4zM182 258h4v1h-4zM187 258h1v1h-1zM189 258h2v1h-2zM192 258h4v1h-4zM197 258h4v1h-4zM202 258h2v1h-2zM209 258h1v1h-1zM222 258h1v1h-1zM235 258h2v1h-2zM249 258h1v1h-1zM258 258h1v1h-1zM264 258h2v1h-2zM271 258h1v1h-1zM280 258h2v1h-2zM294 258h1v1h-1z" fill="#f6a625"/>
<path d="M123 262h2v1h-2zM136 262h1v1h-1zM139 262h3v1h-3zM145 262h2v1h-2zM150 262h3v1h-3zM161 262h1v1h-1zM164 262h2v1h-2zM171 262h2v1h-2zM184 262h3v1h-3zM198 262h3v1h-3zM203 262h1v1h-1zM209 262h3v1h-3zM214 262h1v1h-1zM220 262h3v1h-3zM228 262h3v1h-3zM236 262h1v1h-1zM245 262h2v1h-2zM250 262h1v1h-1zM259 262h1v1h-1zM263 262h2v1h-2zM268 262h2v1h-2zM278 262h3v1h-3zM289 262h1v1h-1zM293 262h3v1h-3zM304 262h2v1h-2zM309 262h3v1h-3zM323 262h2v1h-2z" fill="#d9b033"/>
</g>
</svg>
</body>
</html>
